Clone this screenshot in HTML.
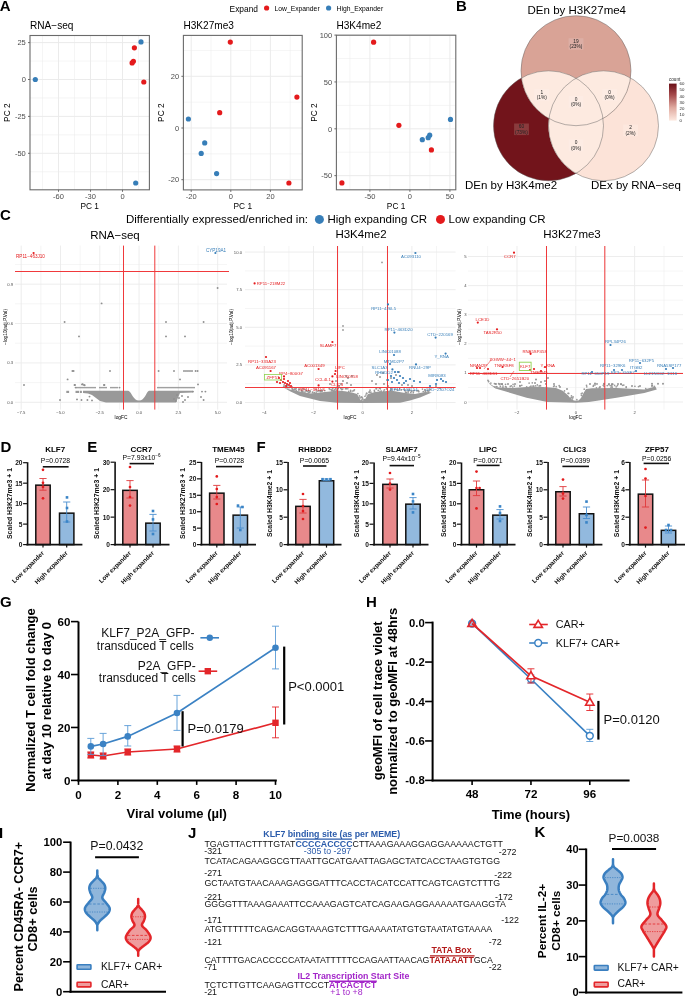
<!DOCTYPE html>
<html><head><meta charset="utf-8"><style>
html,body{margin:0;padding:0;background:#fff;}
svg{display:block;font-family:"Liberation Sans", sans-serif;will-change:transform;}
</style></head><body>
<svg width="685" height="997" viewBox="0 0 685 997">
<rect x="0" y="0" width="685" height="997" fill="#fff"/>
<text x="-0.37" y="10.60" font-size="15" font-weight="bold">A</text>
<text x="229.60" y="12.00" font-size="8.4">Expand</text>
<circle cx="266.60" cy="8.00" r="2.60" fill="#e41a1c"/>
<text x="274.60" y="10.50" font-size="6.75">Low_Expander</text>
<circle cx="328.60" cy="8.00" r="2.60" fill="#377eb8"/>
<text x="336.60" y="10.50" font-size="6.75">High_Expander</text>
<line x1="42.50" y1="35.50" x2="42.50" y2="189.80" stroke="#ebebeb" stroke-width="0.5"/>
<line x1="74.50" y1="35.50" x2="74.50" y2="189.80" stroke="#ebebeb" stroke-width="0.5"/>
<line x1="106.50" y1="35.50" x2="106.50" y2="189.80" stroke="#ebebeb" stroke-width="0.5"/>
<line x1="138.50" y1="35.50" x2="138.50" y2="189.80" stroke="#ebebeb" stroke-width="0.5"/>
<line x1="30.00" y1="61.05" x2="149.40" y2="61.05" stroke="#ebebeb" stroke-width="0.5"/>
<line x1="30.00" y1="97.95" x2="149.40" y2="97.95" stroke="#ebebeb" stroke-width="0.5"/>
<line x1="30.00" y1="134.85" x2="149.40" y2="134.85" stroke="#ebebeb" stroke-width="0.5"/>
<line x1="30.00" y1="171.75" x2="149.40" y2="171.75" stroke="#ebebeb" stroke-width="0.5"/>
<line x1="58.50" y1="35.50" x2="58.50" y2="189.80" stroke="#ebebeb" stroke-width="1"/>
<line x1="90.50" y1="35.50" x2="90.50" y2="189.80" stroke="#ebebeb" stroke-width="1"/>
<line x1="122.50" y1="35.50" x2="122.50" y2="189.80" stroke="#ebebeb" stroke-width="1"/>
<line x1="30.00" y1="42.60" x2="149.40" y2="42.60" stroke="#ebebeb" stroke-width="1"/>
<line x1="30.00" y1="79.50" x2="149.40" y2="79.50" stroke="#ebebeb" stroke-width="1"/>
<line x1="30.00" y1="116.40" x2="149.40" y2="116.40" stroke="#ebebeb" stroke-width="1"/>
<line x1="30.00" y1="153.30" x2="149.40" y2="153.30" stroke="#ebebeb" stroke-width="1"/>
<circle cx="141.00" cy="41.90" r="2.60" fill="#377eb8"/>
<circle cx="134.40" cy="47.80" r="2.60" fill="#e41a1c"/>
<circle cx="133.40" cy="61.30" r="2.60" fill="#e41a1c"/>
<circle cx="132.10" cy="62.90" r="2.60" fill="#e41a1c"/>
<circle cx="143.80" cy="82.00" r="2.60" fill="#e41a1c"/>
<circle cx="35.30" cy="79.50" r="2.60" fill="#377eb8"/>
<circle cx="135.70" cy="183.00" r="2.60" fill="#377eb8"/>
<rect x="30.00" y="35.50" width="119.40" height="154.30" fill="none" stroke="#6a6a6a" stroke-width="1.1"/>
<line x1="58.50" y1="189.80" x2="58.50" y2="191.80" stroke="#6a6a6a" stroke-width="1"/>
<text x="58.50" y="198.70" font-size="7.5" text-anchor="middle" fill="#4d4d4d">-60</text>
<line x1="90.50" y1="189.80" x2="90.50" y2="191.80" stroke="#6a6a6a" stroke-width="1"/>
<text x="90.50" y="198.70" font-size="7.5" text-anchor="middle" fill="#4d4d4d">-30</text>
<line x1="122.50" y1="189.80" x2="122.50" y2="191.80" stroke="#6a6a6a" stroke-width="1"/>
<text x="122.50" y="198.70" font-size="7.5" text-anchor="middle" fill="#4d4d4d">0</text>
<line x1="28.00" y1="42.60" x2="30.00" y2="42.60" stroke="#6a6a6a" stroke-width="1"/>
<text x="25.80" y="45.30" font-size="7.5" text-anchor="end" fill="#4d4d4d">25</text>
<line x1="28.00" y1="79.50" x2="30.00" y2="79.50" stroke="#6a6a6a" stroke-width="1"/>
<text x="25.80" y="82.20" font-size="7.5" text-anchor="end" fill="#4d4d4d">0</text>
<line x1="28.00" y1="116.40" x2="30.00" y2="116.40" stroke="#6a6a6a" stroke-width="1"/>
<text x="25.80" y="119.10" font-size="7.5" text-anchor="end" fill="#4d4d4d">-25</text>
<line x1="28.00" y1="153.30" x2="30.00" y2="153.30" stroke="#6a6a6a" stroke-width="1"/>
<text x="25.80" y="156.00" font-size="7.5" text-anchor="end" fill="#4d4d4d">-50</text>
<text x="30.00" y="29.00" font-size="10.1">RNA−seq</text>
<text x="89.70" y="209.00" font-size="8.3" text-anchor="middle">PC 1</text>
<text x="10.20" y="112.65" font-size="8.3" text-anchor="middle" transform="rotate(-90 10.20 112.65)">PC 2</text>
<line x1="211.00" y1="35.40" x2="211.00" y2="189.90" stroke="#ebebeb" stroke-width="0.5"/>
<line x1="250.60" y1="35.40" x2="250.60" y2="189.90" stroke="#ebebeb" stroke-width="0.5"/>
<line x1="290.20" y1="35.40" x2="290.20" y2="189.90" stroke="#ebebeb" stroke-width="0.5"/>
<line x1="183.40" y1="50.45" x2="302.20" y2="50.45" stroke="#ebebeb" stroke-width="0.5"/>
<line x1="183.40" y1="102.15" x2="302.20" y2="102.15" stroke="#ebebeb" stroke-width="0.5"/>
<line x1="183.40" y1="153.85" x2="302.20" y2="153.85" stroke="#ebebeb" stroke-width="0.5"/>
<line x1="191.20" y1="35.40" x2="191.20" y2="189.90" stroke="#ebebeb" stroke-width="1"/>
<line x1="230.80" y1="35.40" x2="230.80" y2="189.90" stroke="#ebebeb" stroke-width="1"/>
<line x1="270.40" y1="35.40" x2="270.40" y2="189.90" stroke="#ebebeb" stroke-width="1"/>
<line x1="183.40" y1="76.30" x2="302.20" y2="76.30" stroke="#ebebeb" stroke-width="1"/>
<line x1="183.40" y1="128.00" x2="302.20" y2="128.00" stroke="#ebebeb" stroke-width="1"/>
<line x1="183.40" y1="179.70" x2="302.20" y2="179.70" stroke="#ebebeb" stroke-width="1"/>
<circle cx="230.30" cy="42.10" r="2.60" fill="#e41a1c"/>
<circle cx="296.90" cy="97.10" r="2.60" fill="#e41a1c"/>
<circle cx="219.70" cy="112.70" r="2.60" fill="#e41a1c"/>
<circle cx="188.40" cy="119.00" r="2.60" fill="#377eb8"/>
<circle cx="204.70" cy="142.90" r="2.60" fill="#377eb8"/>
<circle cx="201.20" cy="153.40" r="2.60" fill="#377eb8"/>
<circle cx="216.60" cy="173.60" r="2.60" fill="#377eb8"/>
<circle cx="288.90" cy="183.00" r="2.60" fill="#e41a1c"/>
<rect x="183.40" y="35.40" width="118.80" height="154.50" fill="none" stroke="#6a6a6a" stroke-width="1.1"/>
<line x1="191.20" y1="189.90" x2="191.20" y2="191.90" stroke="#6a6a6a" stroke-width="1"/>
<text x="191.20" y="198.80" font-size="7.5" text-anchor="middle" fill="#4d4d4d">-20</text>
<line x1="230.80" y1="189.90" x2="230.80" y2="191.90" stroke="#6a6a6a" stroke-width="1"/>
<text x="230.80" y="198.80" font-size="7.5" text-anchor="middle" fill="#4d4d4d">0</text>
<line x1="270.40" y1="189.90" x2="270.40" y2="191.90" stroke="#6a6a6a" stroke-width="1"/>
<text x="270.40" y="198.80" font-size="7.5" text-anchor="middle" fill="#4d4d4d">20</text>
<line x1="181.40" y1="76.30" x2="183.40" y2="76.30" stroke="#6a6a6a" stroke-width="1"/>
<text x="179.20" y="79.00" font-size="7.5" text-anchor="end" fill="#4d4d4d">20</text>
<line x1="181.40" y1="128.00" x2="183.40" y2="128.00" stroke="#6a6a6a" stroke-width="1"/>
<text x="179.20" y="130.70" font-size="7.5" text-anchor="end" fill="#4d4d4d">0</text>
<line x1="181.40" y1="179.70" x2="183.40" y2="179.70" stroke="#6a6a6a" stroke-width="1"/>
<text x="179.20" y="182.40" font-size="7.5" text-anchor="end" fill="#4d4d4d">-20</text>
<text x="183.40" y="29.00" font-size="10.1">H3K27me3</text>
<text x="242.80" y="209.00" font-size="8.3" text-anchor="middle">PC 1</text>
<text x="164.20" y="112.65" font-size="8.3" text-anchor="middle" transform="rotate(-90 164.20 112.65)">PC 2</text>
<line x1="349.90" y1="35.20" x2="349.90" y2="189.80" stroke="#ebebeb" stroke-width="0.5"/>
<line x1="389.90" y1="35.20" x2="389.90" y2="189.80" stroke="#ebebeb" stroke-width="0.5"/>
<line x1="429.90" y1="35.20" x2="429.90" y2="189.80" stroke="#ebebeb" stroke-width="0.5"/>
<line x1="336.40" y1="58.53" x2="455.80" y2="58.53" stroke="#ebebeb" stroke-width="0.5"/>
<line x1="336.40" y1="105.38" x2="455.80" y2="105.38" stroke="#ebebeb" stroke-width="0.5"/>
<line x1="336.40" y1="152.23" x2="455.80" y2="152.23" stroke="#ebebeb" stroke-width="0.5"/>
<line x1="369.90" y1="35.20" x2="369.90" y2="189.80" stroke="#ebebeb" stroke-width="1"/>
<line x1="409.90" y1="35.20" x2="409.90" y2="189.80" stroke="#ebebeb" stroke-width="1"/>
<line x1="449.90" y1="35.20" x2="449.90" y2="189.80" stroke="#ebebeb" stroke-width="1"/>
<line x1="336.40" y1="35.10" x2="455.80" y2="35.10" stroke="#ebebeb" stroke-width="1"/>
<line x1="336.40" y1="81.95" x2="455.80" y2="81.95" stroke="#ebebeb" stroke-width="1"/>
<line x1="336.40" y1="128.80" x2="455.80" y2="128.80" stroke="#ebebeb" stroke-width="1"/>
<line x1="336.40" y1="175.65" x2="455.80" y2="175.65" stroke="#ebebeb" stroke-width="1"/>
<circle cx="373.60" cy="42.20" r="2.60" fill="#e41a1c"/>
<circle cx="398.90" cy="125.30" r="2.60" fill="#e41a1c"/>
<circle cx="450.50" cy="119.40" r="2.60" fill="#377eb8"/>
<circle cx="429.70" cy="135.20" r="2.60" fill="#377eb8"/>
<circle cx="428.20" cy="137.70" r="2.60" fill="#377eb8"/>
<circle cx="422.30" cy="139.70" r="2.60" fill="#377eb8"/>
<circle cx="431.40" cy="149.90" r="2.60" fill="#e41a1c"/>
<circle cx="341.90" cy="182.90" r="2.60" fill="#e41a1c"/>
<rect x="336.40" y="35.20" width="119.40" height="154.60" fill="none" stroke="#6a6a6a" stroke-width="1.1"/>
<line x1="369.90" y1="189.80" x2="369.90" y2="191.80" stroke="#6a6a6a" stroke-width="1"/>
<text x="369.90" y="198.70" font-size="7.5" text-anchor="middle" fill="#4d4d4d">-50</text>
<line x1="409.90" y1="189.80" x2="409.90" y2="191.80" stroke="#6a6a6a" stroke-width="1"/>
<text x="409.90" y="198.70" font-size="7.5" text-anchor="middle" fill="#4d4d4d">0</text>
<line x1="449.90" y1="189.80" x2="449.90" y2="191.80" stroke="#6a6a6a" stroke-width="1"/>
<text x="449.90" y="198.70" font-size="7.5" text-anchor="middle" fill="#4d4d4d">50</text>
<line x1="334.40" y1="35.10" x2="336.40" y2="35.10" stroke="#6a6a6a" stroke-width="1"/>
<text x="332.20" y="37.80" font-size="7.5" text-anchor="end" fill="#4d4d4d">100</text>
<line x1="334.40" y1="81.95" x2="336.40" y2="81.95" stroke="#6a6a6a" stroke-width="1"/>
<text x="332.20" y="84.65" font-size="7.5" text-anchor="end" fill="#4d4d4d">50</text>
<line x1="334.40" y1="128.80" x2="336.40" y2="128.80" stroke="#6a6a6a" stroke-width="1"/>
<text x="332.20" y="131.50" font-size="7.5" text-anchor="end" fill="#4d4d4d">0</text>
<line x1="334.40" y1="175.65" x2="336.40" y2="175.65" stroke="#6a6a6a" stroke-width="1"/>
<text x="332.20" y="178.35" font-size="7.5" text-anchor="end" fill="#4d4d4d">-50</text>
<text x="336.40" y="29.00" font-size="10.1">H3K4me2</text>
<text x="396.10" y="209.00" font-size="8.3" text-anchor="middle">PC 1</text>
<text x="317.20" y="112.50" font-size="8.3" text-anchor="middle" transform="rotate(-90 317.20 112.50)">PC 2</text>
<text x="455.90" y="10.60" font-size="15" font-weight="bold">B</text>
<defs>
<clipPath id="cpL"><circle cx="548.5" cy="125.8" r="55"/></clipPath>
<clipPath id="cpR"><circle cx="603.5" cy="125.8" r="55"/></clipPath>
<clipPath id="cpT"><circle cx="576" cy="70.7" r="55"/></clipPath>
</defs>
<circle cx="548.50" cy="125.80" r="55.00" fill="#72141b"/>
<circle cx="603.50" cy="125.80" r="55.00" fill="#fce3d8"/>
<circle cx="576.00" cy="70.70" r="55.00" fill="#d9a396"/>
<g clip-path="url(#cpL)"><circle cx="603.5" cy="125.8" r="55" fill="#fdeae0"/><circle cx="576" cy="70.7" r="55" fill="#fdeae0"/></g>
<g clip-path="url(#cpR)"><circle cx="576" cy="70.7" r="55" fill="#fdeae0"/></g>
<circle cx="576.00" cy="70.70" r="55.00" fill="none" stroke="#5a5a5a" stroke-width="0.45"/>
<circle cx="548.50" cy="125.80" r="55.00" fill="none" stroke="#5a5a5a" stroke-width="0.45"/>
<circle cx="603.50" cy="125.80" r="55.00" fill="none" stroke="#5a5a5a" stroke-width="0.45"/>
<rect x="568.60" y="38.20" width="14.80" height="11.60" fill="#dcaea5"/>
<text x="576.00" y="43.00" font-size="4.8" text-anchor="middle" fill="#222">19</text>
<text x="576.00" y="48.20" font-size="4.8" text-anchor="middle" fill="#222">(23%)</text>
<rect x="514.10" y="123.50" width="14.80" height="11.60" fill="#8a3b3d"/>
<text x="521.50" y="128.30" font-size="4.8" text-anchor="middle" fill="#222">60</text>
<text x="521.50" y="133.50" font-size="4.8" text-anchor="middle" fill="#222">(73%)</text>
<rect x="534.40" y="89.00" width="14.80" height="11.60" fill="#fdece4"/>
<text x="541.80" y="93.80" font-size="4.8" text-anchor="middle" fill="#222">1</text>
<text x="541.80" y="99.00" font-size="4.8" text-anchor="middle" fill="#222">(1%)</text>
<rect x="568.60" y="96.00" width="14.80" height="11.60" fill="#fdece4"/>
<text x="576.00" y="100.80" font-size="4.8" text-anchor="middle" fill="#222">0</text>
<text x="576.00" y="106.00" font-size="4.8" text-anchor="middle" fill="#222">(0%)</text>
<rect x="602.20" y="89.00" width="14.80" height="11.60" fill="#fdece4"/>
<text x="609.60" y="93.80" font-size="4.8" text-anchor="middle" fill="#222">0</text>
<text x="609.60" y="99.00" font-size="4.8" text-anchor="middle" fill="#222">(0%)</text>
<rect x="568.60" y="139.50" width="14.80" height="11.60" fill="#fdece4"/>
<text x="576.00" y="144.30" font-size="4.8" text-anchor="middle" fill="#222">0</text>
<text x="576.00" y="149.50" font-size="4.8" text-anchor="middle" fill="#222">(0%)</text>
<rect x="623.20" y="124.50" width="14.80" height="11.60" fill="#fde8de"/>
<text x="630.60" y="129.30" font-size="4.8" text-anchor="middle" fill="#222">2</text>
<text x="630.60" y="134.50" font-size="4.8" text-anchor="middle" fill="#222">(2%)</text>
<text x="576.80" y="14.00" font-size="11.5" text-anchor="middle">DEn by H3K27me4</text>
<text x="465.00" y="189.40" font-size="11.5">DEn by H3K4me2</text>
<text x="635.90" y="189.40" font-size="11.5" text-anchor="middle">DEx by RNA−seq</text>
<defs><linearGradient id="cbar" x1="0" y1="1" x2="0" y2="0"><stop offset="0" stop-color="#fde9e0"/><stop offset="0.35" stop-color="#e0aaa0"/><stop offset="0.7" stop-color="#a4494b"/><stop offset="1" stop-color="#6a0f17"/></linearGradient></defs>
<text x="669.00" y="80.50" font-size="4.6" fill="#222">count</text>
<rect x="669.00" y="83.60" width="7.60" height="37.00" fill="url(#cbar)"/>
<text x="679.50" y="85.20" font-size="4.3" fill="#222">60</text>
<text x="679.50" y="91.37" font-size="4.3" fill="#222">50</text>
<text x="679.50" y="97.53" font-size="4.3" fill="#222">40</text>
<text x="679.50" y="103.70" font-size="4.3" fill="#222">30</text>
<text x="679.50" y="109.87" font-size="4.3" fill="#222">20</text>
<text x="679.50" y="116.03" font-size="4.3" fill="#222">10</text>
<text x="679.50" y="122.20" font-size="4.3" fill="#222">0</text>
<text x="0.00" y="219.60" font-size="15" font-weight="bold">C</text>
<text x="126.00" y="223.40" font-size="11.5">Differentially expressed/enriched in:</text>
<circle cx="319.40" cy="219.40" r="4.50" fill="#377eb8"/>
<text x="327.40" y="223.40" font-size="11.5">High expanding CR</text>
<circle cx="440.50" cy="219.40" r="4.50" fill="#e41a1c"/>
<text x="448.50" y="223.40" font-size="11.5">Low expanding CR</text>
<line x1="40.85" y1="245.60" x2="40.85" y2="409.60" stroke="#ebebeb" stroke-width="0.5"/>
<line x1="80.15" y1="245.60" x2="80.15" y2="409.60" stroke="#ebebeb" stroke-width="0.5"/>
<line x1="119.45" y1="245.60" x2="119.45" y2="409.60" stroke="#ebebeb" stroke-width="0.5"/>
<line x1="158.75" y1="245.60" x2="158.75" y2="409.60" stroke="#ebebeb" stroke-width="0.5"/>
<line x1="198.05" y1="245.60" x2="198.05" y2="409.60" stroke="#ebebeb" stroke-width="0.5"/>
<line x1="15.00" y1="382.61" x2="227.00" y2="382.61" stroke="#ebebeb" stroke-width="0.5"/>
<line x1="15.00" y1="343.22" x2="227.00" y2="343.22" stroke="#ebebeb" stroke-width="0.5"/>
<line x1="15.00" y1="303.82" x2="227.00" y2="303.82" stroke="#ebebeb" stroke-width="0.5"/>
<line x1="15.00" y1="264.44" x2="227.00" y2="264.44" stroke="#ebebeb" stroke-width="0.5"/>
<line x1="21.20" y1="245.60" x2="21.20" y2="409.60" stroke="#ebebeb" stroke-width="0.9"/>
<line x1="60.50" y1="245.60" x2="60.50" y2="409.60" stroke="#ebebeb" stroke-width="0.9"/>
<line x1="99.80" y1="245.60" x2="99.80" y2="409.60" stroke="#ebebeb" stroke-width="0.9"/>
<line x1="139.10" y1="245.60" x2="139.10" y2="409.60" stroke="#ebebeb" stroke-width="0.9"/>
<line x1="178.40" y1="245.60" x2="178.40" y2="409.60" stroke="#ebebeb" stroke-width="0.9"/>
<line x1="217.70" y1="245.60" x2="217.70" y2="409.60" stroke="#ebebeb" stroke-width="0.9"/>
<line x1="15.00" y1="402.30" x2="227.00" y2="402.30" stroke="#ebebeb" stroke-width="0.9"/>
<line x1="15.00" y1="362.91" x2="227.00" y2="362.91" stroke="#ebebeb" stroke-width="0.9"/>
<line x1="15.00" y1="323.52" x2="227.00" y2="323.52" stroke="#ebebeb" stroke-width="0.9"/>
<line x1="15.00" y1="284.13" x2="227.00" y2="284.13" stroke="#ebebeb" stroke-width="0.9"/>
<text x="115.00" y="239.40" font-size="11.5" text-anchor="middle">RNA−seq</text>
<text x="21.20" y="413.50" font-size="4.2" text-anchor="middle" fill="#4d4d4d">−7.5</text>
<text x="60.50" y="413.50" font-size="4.2" text-anchor="middle" fill="#4d4d4d">−5.0</text>
<text x="99.80" y="413.50" font-size="4.2" text-anchor="middle" fill="#4d4d4d">−2.5</text>
<text x="139.10" y="413.50" font-size="4.2" text-anchor="middle" fill="#4d4d4d">0.0</text>
<text x="178.40" y="413.50" font-size="4.2" text-anchor="middle" fill="#4d4d4d">2.5</text>
<text x="217.70" y="413.50" font-size="4.2" text-anchor="middle" fill="#4d4d4d">5.0</text>
<text x="13.00" y="403.80" font-size="4.2" text-anchor="end" fill="#4d4d4d">0.0</text>
<text x="13.00" y="364.41" font-size="4.2" text-anchor="end" fill="#4d4d4d">0.3</text>
<text x="13.00" y="325.02" font-size="4.2" text-anchor="end" fill="#4d4d4d">0.6</text>
<text x="13.00" y="285.63" font-size="4.2" text-anchor="end" fill="#4d4d4d">0.9</text>
<text x="121.00" y="419.00" font-size="4.8" text-anchor="middle">logFC</text>
<text x="6.50" y="327.00" font-size="4.8" text-anchor="middle" transform="rotate(-90 6.50 327.00)">−log10(adj.P.Val)</text>
<path d="M83,390.7 L128.2,390.7 C132,392 133,400.5 139,400.6 C145,400.5 146,392 149,390.7 L193,390.7 L193,392.6 L180,393 L176,402.6 L106,402.6 L100,401 L96,398 L92,395 L88,393.5 L83,393 Z" fill="#999999"/>
<rect x="75.50" y="390.80" width="3.50" height="2.20" fill="#999999"/>
<rect x="79.80" y="390.80" width="2.10" height="2.20" fill="#999999"/>
<rect x="66.30" y="390.80" width="2.80" height="2.20" fill="#999999"/>
<circle cx="101.60" cy="303.40" r="0.95" fill="#8f8f8f"/>
<circle cx="64.60" cy="322.00" r="0.95" fill="#8f8f8f"/>
<circle cx="79.00" cy="336.40" r="0.95" fill="#8f8f8f"/>
<circle cx="72.40" cy="371.00" r="0.95" fill="#8f8f8f"/>
<circle cx="73.60" cy="371.00" r="0.95" fill="#8f8f8f"/>
<circle cx="110.00" cy="371.00" r="0.95" fill="#8f8f8f"/>
<circle cx="67.60" cy="379.40" r="0.95" fill="#8f8f8f"/>
<circle cx="24.00" cy="385.00" r="0.95" fill="#8f8f8f"/>
<circle cx="75.00" cy="385.00" r="0.95" fill="#8f8f8f"/>
<circle cx="82.00" cy="384.40" r="0.95" fill="#8f8f8f"/>
<circle cx="84.00" cy="385.00" r="0.95" fill="#8f8f8f"/>
<circle cx="104.40" cy="385.00" r="0.95" fill="#8f8f8f"/>
<circle cx="60.00" cy="400.00" r="0.95" fill="#8f8f8f"/>
<circle cx="77.00" cy="399.40" r="0.95" fill="#8f8f8f"/>
<circle cx="81.50" cy="400.00" r="0.95" fill="#8f8f8f"/>
<circle cx="87.40" cy="400.00" r="0.95" fill="#8f8f8f"/>
<circle cx="92.00" cy="400.40" r="0.95" fill="#8f8f8f"/>
<circle cx="89.50" cy="396.60" r="0.95" fill="#8f8f8f"/>
<circle cx="74.50" cy="385.00" r="0.95" fill="#8f8f8f"/>
<circle cx="82.70" cy="384.30" r="0.95" fill="#8f8f8f"/>
<circle cx="84.70" cy="385.20" r="0.95" fill="#8f8f8f"/>
<circle cx="166.00" cy="322.00" r="0.95" fill="#8f8f8f"/>
<circle cx="203.60" cy="322.00" r="0.95" fill="#8f8f8f"/>
<circle cx="166.00" cy="336.40" r="0.95" fill="#8f8f8f"/>
<circle cx="185.00" cy="336.40" r="0.95" fill="#8f8f8f"/>
<circle cx="158.60" cy="371.00" r="0.95" fill="#8f8f8f"/>
<circle cx="174.00" cy="371.00" r="0.95" fill="#8f8f8f"/>
<circle cx="184.00" cy="371.00" r="0.95" fill="#8f8f8f"/>
<circle cx="186.00" cy="371.00" r="0.95" fill="#8f8f8f"/>
<circle cx="188.00" cy="371.00" r="0.95" fill="#8f8f8f"/>
<circle cx="190.00" cy="371.00" r="0.95" fill="#8f8f8f"/>
<circle cx="192.00" cy="371.00" r="0.95" fill="#8f8f8f"/>
<circle cx="195.60" cy="371.00" r="0.95" fill="#8f8f8f"/>
<circle cx="197.60" cy="371.00" r="0.95" fill="#8f8f8f"/>
<circle cx="180.00" cy="379.40" r="0.95" fill="#8f8f8f"/>
<circle cx="198.00" cy="384.40" r="0.95" fill="#8f8f8f"/>
<circle cx="104.00" cy="385.00" r="0.95" fill="#8f8f8f"/>
<circle cx="193.00" cy="391.60" r="0.95" fill="#8f8f8f"/>
<circle cx="202.00" cy="391.60" r="0.95" fill="#8f8f8f"/>
<circle cx="205.40" cy="391.60" r="0.95" fill="#8f8f8f"/>
<circle cx="201.00" cy="397.00" r="0.95" fill="#8f8f8f"/>
<circle cx="203.60" cy="400.00" r="0.95" fill="#8f8f8f"/>
<circle cx="177.00" cy="395.00" r="0.95" fill="#8f8f8f"/>
<circle cx="179.00" cy="398.00" r="0.95" fill="#8f8f8f"/>
<circle cx="182.00" cy="396.00" r="0.95" fill="#8f8f8f"/>
<circle cx="185.00" cy="400.00" r="0.95" fill="#8f8f8f"/>
<circle cx="188.00" cy="397.00" r="0.95" fill="#8f8f8f"/>
<circle cx="176.00" cy="401.00" r="0.95" fill="#8f8f8f"/>
<circle cx="183.00" cy="402.00" r="0.95" fill="#8f8f8f"/>
<circle cx="174.00" cy="399.00" r="0.95" fill="#8f8f8f"/>
<circle cx="75.60" cy="387.60" r="0.95" fill="#8f8f8f"/>
<circle cx="77.00" cy="387.60" r="0.95" fill="#8f8f8f"/>
<circle cx="79.00" cy="387.60" r="0.95" fill="#8f8f8f"/>
<circle cx="81.00" cy="387.60" r="0.95" fill="#8f8f8f"/>
<circle cx="83.00" cy="387.60" r="0.95" fill="#8f8f8f"/>
<circle cx="85.00" cy="387.60" r="0.95" fill="#8f8f8f"/>
<circle cx="87.00" cy="387.60" r="0.95" fill="#8f8f8f"/>
<circle cx="89.00" cy="387.60" r="0.95" fill="#8f8f8f"/>
<circle cx="91.00" cy="387.60" r="0.95" fill="#8f8f8f"/>
<circle cx="93.00" cy="387.60" r="0.95" fill="#8f8f8f"/>
<circle cx="95.00" cy="387.60" r="0.95" fill="#8f8f8f"/>
<circle cx="100.00" cy="387.60" r="0.95" fill="#8f8f8f"/>
<circle cx="102.00" cy="387.60" r="0.95" fill="#8f8f8f"/>
<circle cx="104.00" cy="387.60" r="0.95" fill="#8f8f8f"/>
<circle cx="106.00" cy="387.60" r="0.95" fill="#8f8f8f"/>
<circle cx="111.00" cy="387.60" r="0.95" fill="#8f8f8f"/>
<circle cx="113.00" cy="387.60" r="0.95" fill="#8f8f8f"/>
<circle cx="115.00" cy="387.60" r="0.95" fill="#8f8f8f"/>
<circle cx="117.00" cy="387.60" r="0.95" fill="#8f8f8f"/>
<circle cx="119.50" cy="387.60" r="0.95" fill="#8f8f8f"/>
<circle cx="158.00" cy="387.60" r="0.95" fill="#8f8f8f"/>
<circle cx="160.00" cy="387.60" r="0.95" fill="#8f8f8f"/>
<circle cx="162.00" cy="387.60" r="0.95" fill="#8f8f8f"/>
<circle cx="164.00" cy="387.60" r="0.95" fill="#8f8f8f"/>
<circle cx="166.00" cy="387.60" r="0.95" fill="#8f8f8f"/>
<circle cx="168.00" cy="387.60" r="0.95" fill="#8f8f8f"/>
<circle cx="170.00" cy="387.60" r="0.95" fill="#8f8f8f"/>
<circle cx="172.00" cy="387.60" r="0.95" fill="#8f8f8f"/>
<circle cx="174.00" cy="387.60" r="0.95" fill="#8f8f8f"/>
<circle cx="176.00" cy="387.60" r="0.95" fill="#8f8f8f"/>
<circle cx="178.00" cy="387.60" r="0.95" fill="#8f8f8f"/>
<circle cx="180.00" cy="387.60" r="0.95" fill="#8f8f8f"/>
<circle cx="182.00" cy="387.60" r="0.95" fill="#8f8f8f"/>
<circle cx="184.00" cy="387.60" r="0.95" fill="#8f8f8f"/>
<circle cx="186.00" cy="387.60" r="0.95" fill="#8f8f8f"/>
<circle cx="188.00" cy="387.60" r="0.95" fill="#8f8f8f"/>
<circle cx="190.00" cy="387.60" r="0.95" fill="#8f8f8f"/>
<circle cx="192.00" cy="387.60" r="0.95" fill="#8f8f8f"/>
<circle cx="194.00" cy="387.60" r="0.95" fill="#8f8f8f"/>
<line x1="15.00" y1="271.50" x2="229.00" y2="271.50" stroke="#f0393b" stroke-width="1"/>
<line x1="123.50" y1="245.60" x2="123.50" y2="409.60" stroke="#f0393b" stroke-width="1"/>
<line x1="154.80" y1="245.60" x2="154.80" y2="409.60" stroke="#f0393b" stroke-width="1"/>
<circle cx="33.60" cy="253.00" r="1.10" fill="#e41a1c"/>
<text x="16.00" y="258.20" font-size="4.6" fill="#e41a1c">RP11−463J10</text>
<circle cx="215.40" cy="253.00" r="1.10" fill="#377eb8"/>
<text x="216.00" y="251.60" font-size="4.6" text-anchor="middle" fill="#377eb8">CYP19A1</text>
<circle cx="217.60" cy="288.00" r="0.95" fill="#8f8f8f"/>
<line x1="288.90" y1="246.00" x2="288.90" y2="409.60" stroke="#ebebeb" stroke-width="0.5"/>
<line x1="338.10" y1="246.00" x2="338.10" y2="409.60" stroke="#ebebeb" stroke-width="0.5"/>
<line x1="387.30" y1="246.00" x2="387.30" y2="409.60" stroke="#ebebeb" stroke-width="0.5"/>
<line x1="436.50" y1="246.00" x2="436.50" y2="409.60" stroke="#ebebeb" stroke-width="0.5"/>
<line x1="245.00" y1="383.70" x2="455.60" y2="383.70" stroke="#ebebeb" stroke-width="0.5"/>
<line x1="245.00" y1="346.10" x2="455.60" y2="346.10" stroke="#ebebeb" stroke-width="0.5"/>
<line x1="245.00" y1="308.50" x2="455.60" y2="308.50" stroke="#ebebeb" stroke-width="0.5"/>
<line x1="245.00" y1="270.90" x2="455.60" y2="270.90" stroke="#ebebeb" stroke-width="0.5"/>
<line x1="264.30" y1="246.00" x2="264.30" y2="409.60" stroke="#ebebeb" stroke-width="0.9"/>
<line x1="313.50" y1="246.00" x2="313.50" y2="409.60" stroke="#ebebeb" stroke-width="0.9"/>
<line x1="362.70" y1="246.00" x2="362.70" y2="409.60" stroke="#ebebeb" stroke-width="0.9"/>
<line x1="411.90" y1="246.00" x2="411.90" y2="409.60" stroke="#ebebeb" stroke-width="0.9"/>
<line x1="245.00" y1="402.50" x2="455.60" y2="402.50" stroke="#ebebeb" stroke-width="0.9"/>
<line x1="245.00" y1="364.90" x2="455.60" y2="364.90" stroke="#ebebeb" stroke-width="0.9"/>
<line x1="245.00" y1="327.30" x2="455.60" y2="327.30" stroke="#ebebeb" stroke-width="0.9"/>
<line x1="245.00" y1="289.70" x2="455.60" y2="289.70" stroke="#ebebeb" stroke-width="0.9"/>
<line x1="245.00" y1="252.10" x2="455.60" y2="252.10" stroke="#ebebeb" stroke-width="0.9"/>
<text x="361.00" y="238.40" font-size="11.5" text-anchor="middle">H3K4me2</text>
<text x="264.30" y="413.50" font-size="4.2" text-anchor="middle" fill="#4d4d4d">−4</text>
<text x="313.50" y="413.50" font-size="4.2" text-anchor="middle" fill="#4d4d4d">−2</text>
<text x="362.70" y="413.50" font-size="4.2" text-anchor="middle" fill="#4d4d4d">0</text>
<text x="411.90" y="413.50" font-size="4.2" text-anchor="middle" fill="#4d4d4d">2</text>
<text x="242.00" y="404.00" font-size="4.2" text-anchor="end" fill="#4d4d4d">0.0</text>
<text x="242.00" y="366.40" font-size="4.2" text-anchor="end" fill="#4d4d4d">2.5</text>
<text x="242.00" y="328.80" font-size="4.2" text-anchor="end" fill="#4d4d4d">5.0</text>
<text x="242.00" y="291.20" font-size="4.2" text-anchor="end" fill="#4d4d4d">7.5</text>
<text x="242.00" y="253.60" font-size="4.2" text-anchor="end" fill="#4d4d4d">10.0</text>
<text x="350.00" y="419.00" font-size="4.8" text-anchor="middle">logFC</text>
<text x="233.00" y="327.00" font-size="4.8" text-anchor="middle" transform="rotate(-90 233.00 327.00)">−log10(adj.P.Val)</text>
<path d="M283.50,387.50 L290.00,389.40 L300.00,391.60 L310.00,393.50 L320.00,392.50 L330.00,391.50 L337.00,390.40 L345.00,391.30 L352.00,392.50 L357.00,393.90 L358.80,397.00 L360.50,400.20 L362.50,400.80 L364.50,400.20 L366.30,397.00 L368.00,393.90 L375.00,392.00 L385.00,391.30 L390.00,390.50 L395.00,391.30 L405.00,393.00 L415.00,393.90 L425.00,392.10 L431.80,392.60 L420.00,397.40 L410.00,400.50 L400.00,402.80 L362.50,403.00 L337.00,402.80 L320.00,401.00 L300.00,396.00 L290.00,391.20 Z" fill="#999999"/>
<circle cx="331.52" cy="390.73" r="0.85" fill="#999999"/>
<circle cx="380.03" cy="391.39" r="0.85" fill="#999999"/>
<circle cx="362.97" cy="399.38" r="0.85" fill="#999999"/>
<circle cx="292.10" cy="388.09" r="0.85" fill="#999999"/>
<circle cx="289.06" cy="387.61" r="0.85" fill="#999999"/>
<circle cx="293.86" cy="389.93" r="0.85" fill="#999999"/>
<circle cx="346.46" cy="388.66" r="0.85" fill="#999999"/>
<circle cx="301.86" cy="391.17" r="0.85" fill="#999999"/>
<circle cx="376.55" cy="388.57" r="0.85" fill="#999999"/>
<circle cx="369.08" cy="392.22" r="0.85" fill="#999999"/>
<circle cx="428.28" cy="392.18" r="0.85" fill="#999999"/>
<circle cx="410.81" cy="392.51" r="0.85" fill="#999999"/>
<circle cx="304.89" cy="392.12" r="0.85" fill="#999999"/>
<circle cx="329.25" cy="388.72" r="0.85" fill="#999999"/>
<circle cx="310.30" cy="391.43" r="0.85" fill="#999999"/>
<circle cx="378.25" cy="390.47" r="0.85" fill="#999999"/>
<circle cx="364.73" cy="399.57" r="0.85" fill="#999999"/>
<circle cx="292.34" cy="389.19" r="0.85" fill="#999999"/>
<circle cx="384.40" cy="389.85" r="0.85" fill="#999999"/>
<circle cx="330.09" cy="389.44" r="0.85" fill="#999999"/>
<circle cx="350.71" cy="391.23" r="0.85" fill="#999999"/>
<circle cx="401.31" cy="389.93" r="0.85" fill="#999999"/>
<circle cx="319.70" cy="390.52" r="0.85" fill="#999999"/>
<circle cx="361.39" cy="397.40" r="0.85" fill="#999999"/>
<circle cx="391.68" cy="389.76" r="0.85" fill="#999999"/>
<circle cx="428.86" cy="391.97" r="0.85" fill="#999999"/>
<circle cx="345.51" cy="388.74" r="0.85" fill="#999999"/>
<circle cx="306.04" cy="391.04" r="0.85" fill="#999999"/>
<circle cx="289.31" cy="386.86" r="0.85" fill="#999999"/>
<circle cx="396.89" cy="389.62" r="0.85" fill="#999999"/>
<circle cx="413.33" cy="392.65" r="0.85" fill="#999999"/>
<circle cx="386.61" cy="388.96" r="0.85" fill="#999999"/>
<circle cx="369.50" cy="391.90" r="0.85" fill="#999999"/>
<circle cx="408.07" cy="389.97" r="0.85" fill="#999999"/>
<circle cx="353.81" cy="390.68" r="0.85" fill="#999999"/>
<circle cx="292.50" cy="387.49" r="0.85" fill="#999999"/>
<circle cx="379.47" cy="388.21" r="0.85" fill="#999999"/>
<circle cx="405.39" cy="392.04" r="0.85" fill="#999999"/>
<circle cx="340.71" cy="388.48" r="0.85" fill="#999999"/>
<circle cx="286.85" cy="386.86" r="0.85" fill="#999999"/>
<circle cx="308.42" cy="392.79" r="0.85" fill="#999999"/>
<circle cx="292.24" cy="387.20" r="0.85" fill="#999999"/>
<circle cx="302.68" cy="391.24" r="0.85" fill="#999999"/>
<circle cx="341.48" cy="387.85" r="0.85" fill="#999999"/>
<circle cx="295.45" cy="389.03" r="0.85" fill="#999999"/>
<circle cx="364.98" cy="396.25" r="0.85" fill="#999999"/>
<circle cx="405.00" cy="389.98" r="0.85" fill="#999999"/>
<circle cx="324.79" cy="390.57" r="0.85" fill="#999999"/>
<circle cx="336.71" cy="387.35" r="0.85" fill="#999999"/>
<circle cx="425.53" cy="391.61" r="0.85" fill="#999999"/>
<circle cx="309.63" cy="392.62" r="0.85" fill="#999999"/>
<circle cx="318.10" cy="390.99" r="0.85" fill="#999999"/>
<circle cx="370.87" cy="392.20" r="0.85" fill="#999999"/>
<circle cx="284.11" cy="386.21" r="0.85" fill="#999999"/>
<circle cx="338.26" cy="388.56" r="0.85" fill="#999999"/>
<circle cx="424.84" cy="389.71" r="0.85" fill="#999999"/>
<circle cx="359.95" cy="397.00" r="0.85" fill="#999999"/>
<circle cx="383.78" cy="391.20" r="0.85" fill="#999999"/>
<circle cx="416.90" cy="390.83" r="0.85" fill="#999999"/>
<circle cx="413.19" cy="390.94" r="0.85" fill="#999999"/>
<circle cx="341.69" cy="389.53" r="0.85" fill="#999999"/>
<circle cx="298.85" cy="389.13" r="0.85" fill="#999999"/>
<circle cx="292.73" cy="389.77" r="0.85" fill="#999999"/>
<circle cx="314.46" cy="392.49" r="0.85" fill="#999999"/>
<circle cx="333.93" cy="390.70" r="0.85" fill="#999999"/>
<circle cx="283.53" cy="386.98" r="0.85" fill="#999999"/>
<circle cx="298.55" cy="390.01" r="0.85" fill="#999999"/>
<circle cx="287.28" cy="385.55" r="0.85" fill="#999999"/>
<circle cx="374.57" cy="391.60" r="0.85" fill="#999999"/>
<circle cx="320.91" cy="391.19" r="0.85" fill="#999999"/>
<circle cx="337.51" cy="390.03" r="0.85" fill="#999999"/>
<circle cx="409.40" cy="389.92" r="0.85" fill="#999999"/>
<circle cx="352.61" cy="390.98" r="0.85" fill="#999999"/>
<circle cx="296.24" cy="390.41" r="0.85" fill="#999999"/>
<circle cx="334.31" cy="389.90" r="0.85" fill="#999999"/>
<circle cx="406.42" cy="392.56" r="0.85" fill="#999999"/>
<circle cx="286.93" cy="385.17" r="0.85" fill="#999999"/>
<circle cx="361.84" cy="400.09" r="0.85" fill="#999999"/>
<circle cx="364.05" cy="400.24" r="0.85" fill="#999999"/>
<circle cx="361.82" cy="397.17" r="0.85" fill="#999999"/>
<circle cx="411.53" cy="391.15" r="0.85" fill="#999999"/>
<circle cx="322.22" cy="390.99" r="0.85" fill="#999999"/>
<circle cx="308.27" cy="390.47" r="0.85" fill="#999999"/>
<circle cx="362.48" cy="398.07" r="0.85" fill="#999999"/>
<circle cx="332.39" cy="390.34" r="0.85" fill="#999999"/>
<circle cx="403.85" cy="389.36" r="0.85" fill="#999999"/>
<circle cx="409.94" cy="390.62" r="0.85" fill="#999999"/>
<circle cx="404.86" cy="390.39" r="0.85" fill="#999999"/>
<circle cx="317.13" cy="390.98" r="0.85" fill="#999999"/>
<circle cx="336.23" cy="390.42" r="0.85" fill="#999999"/>
<circle cx="287.64" cy="387.73" r="0.85" fill="#999999"/>
<circle cx="321.94" cy="389.88" r="0.85" fill="#999999"/>
<circle cx="425.35" cy="390.56" r="0.85" fill="#999999"/>
<circle cx="422.46" cy="389.10" r="0.85" fill="#999999"/>
<circle cx="425.13" cy="390.83" r="0.85" fill="#999999"/>
<circle cx="316.19" cy="392.09" r="0.85" fill="#999999"/>
<circle cx="312.67" cy="392.52" r="0.85" fill="#999999"/>
<circle cx="376.05" cy="388.78" r="0.85" fill="#999999"/>
<circle cx="408.14" cy="391.60" r="0.85" fill="#999999"/>
<circle cx="380.34" cy="388.83" r="0.85" fill="#999999"/>
<circle cx="296.07" cy="388.42" r="0.85" fill="#999999"/>
<circle cx="418.42" cy="390.55" r="0.85" fill="#999999"/>
<circle cx="394.75" cy="389.59" r="0.85" fill="#999999"/>
<circle cx="309.97" cy="390.73" r="0.85" fill="#999999"/>
<circle cx="332.81" cy="388.26" r="0.85" fill="#999999"/>
<circle cx="427.60" cy="390.91" r="0.85" fill="#999999"/>
<circle cx="343.03" cy="387.76" r="0.85" fill="#999999"/>
<circle cx="390.99" cy="390.06" r="0.85" fill="#999999"/>
<circle cx="302.34" cy="391.52" r="0.85" fill="#999999"/>
<circle cx="417.69" cy="390.59" r="0.85" fill="#999999"/>
<circle cx="305.18" cy="389.69" r="0.85" fill="#999999"/>
<circle cx="428.88" cy="390.08" r="0.85" fill="#999999"/>
<circle cx="335.47" cy="388.72" r="0.85" fill="#999999"/>
<circle cx="302.92" cy="392.11" r="0.85" fill="#999999"/>
<circle cx="427.48" cy="390.01" r="0.85" fill="#999999"/>
<circle cx="361.59" cy="397.26" r="0.85" fill="#999999"/>
<circle cx="347.83" cy="388.73" r="0.85" fill="#999999"/>
<circle cx="406.02" cy="392.35" r="0.85" fill="#999999"/>
<circle cx="320.85" cy="391.39" r="0.85" fill="#999999"/>
<circle cx="319.17" cy="390.53" r="0.85" fill="#999999"/>
<circle cx="321.96" cy="390.84" r="0.85" fill="#999999"/>
<circle cx="302.94" cy="388.97" r="0.85" fill="#999999"/>
<circle cx="335.97" cy="388.96" r="0.85" fill="#999999"/>
<circle cx="370.01" cy="390.19" r="0.85" fill="#999999"/>
<circle cx="345.88" cy="388.24" r="0.85" fill="#999999"/>
<circle cx="357.89" cy="393.58" r="0.85" fill="#999999"/>
<circle cx="361.14" cy="400.33" r="0.85" fill="#999999"/>
<circle cx="348.77" cy="391.31" r="0.85" fill="#999999"/>
<circle cx="284.08" cy="384.87" r="0.85" fill="#999999"/>
<circle cx="309.06" cy="391.66" r="0.85" fill="#999999"/>
<circle cx="391.05" cy="388.72" r="0.85" fill="#999999"/>
<circle cx="331.84" cy="389.40" r="0.85" fill="#999999"/>
<circle cx="365.87" cy="395.02" r="0.85" fill="#999999"/>
<circle cx="299.24" cy="389.47" r="0.85" fill="#999999"/>
<circle cx="320.35" cy="391.50" r="0.85" fill="#999999"/>
<circle cx="398.03" cy="390.04" r="0.85" fill="#999999"/>
<circle cx="366.80" cy="393.42" r="0.85" fill="#999999"/>
<circle cx="418.82" cy="391.66" r="0.85" fill="#999999"/>
<circle cx="374.34" cy="390.41" r="0.85" fill="#999999"/>
<circle cx="359.45" cy="395.81" r="0.85" fill="#999999"/>
<circle cx="350.58" cy="390.39" r="0.85" fill="#999999"/>
<circle cx="354.39" cy="389.87" r="0.85" fill="#999999"/>
<circle cx="387.19" cy="387.88" r="0.85" fill="#999999"/>
<circle cx="423.23" cy="391.51" r="0.85" fill="#999999"/>
<circle cx="366.48" cy="393.38" r="0.85" fill="#999999"/>
<circle cx="408.07" cy="392.80" r="0.85" fill="#999999"/>
<circle cx="301.54" cy="390.34" r="0.85" fill="#999999"/>
<circle cx="294.26" cy="389.49" r="0.85" fill="#999999"/>
<circle cx="294.34" cy="388.01" r="0.85" fill="#999999"/>
<circle cx="399.76" cy="388.97" r="0.85" fill="#999999"/>
<circle cx="306.40" cy="390.31" r="0.85" fill="#999999"/>
<circle cx="381.42" cy="391.05" r="0.85" fill="#999999"/>
<circle cx="414.42" cy="390.46" r="0.85" fill="#999999"/>
<circle cx="316.06" cy="389.56" r="0.85" fill="#999999"/>
<circle cx="342.56" cy="389.32" r="0.85" fill="#999999"/>
<circle cx="430.30" cy="389.58" r="0.85" fill="#999999"/>
<circle cx="307.45" cy="391.50" r="0.85" fill="#999999"/>
<circle cx="359.96" cy="398.00" r="0.85" fill="#999999"/>
<circle cx="312.53" cy="392.13" r="0.85" fill="#999999"/>
<circle cx="390.59" cy="390.53" r="0.85" fill="#999999"/>
<circle cx="330.00" cy="384.00" r="0.95" fill="#8f8f8f"/>
<circle cx="336.00" cy="381.00" r="0.95" fill="#8f8f8f"/>
<circle cx="341.00" cy="384.00" r="0.95" fill="#8f8f8f"/>
<circle cx="343.00" cy="381.00" r="0.95" fill="#8f8f8f"/>
<circle cx="347.00" cy="383.00" r="0.95" fill="#8f8f8f"/>
<circle cx="351.00" cy="385.00" r="0.95" fill="#8f8f8f"/>
<circle cx="339.00" cy="386.00" r="0.95" fill="#8f8f8f"/>
<circle cx="346.00" cy="376.00" r="0.95" fill="#8f8f8f"/>
<circle cx="348.00" cy="378.00" r="0.95" fill="#8f8f8f"/>
<circle cx="352.00" cy="376.00" r="0.95" fill="#8f8f8f"/>
<circle cx="372.00" cy="381.00" r="0.95" fill="#8f8f8f"/>
<circle cx="377.00" cy="375.00" r="0.95" fill="#8f8f8f"/>
<circle cx="380.00" cy="377.00" r="0.95" fill="#8f8f8f"/>
<circle cx="383.00" cy="373.00" r="0.95" fill="#8f8f8f"/>
<circle cx="387.00" cy="380.00" r="0.95" fill="#8f8f8f"/>
<circle cx="391.00" cy="378.00" r="0.95" fill="#8f8f8f"/>
<circle cx="376.00" cy="384.00" r="0.95" fill="#8f8f8f"/>
<circle cx="384.00" cy="384.00" r="0.95" fill="#8f8f8f"/>
<circle cx="388.00" cy="386.00" r="0.95" fill="#8f8f8f"/>
<circle cx="396.00" cy="375.00" r="0.95" fill="#8f8f8f"/>
<circle cx="399.00" cy="372.00" r="0.95" fill="#8f8f8f"/>
<circle cx="402.00" cy="385.00" r="0.95" fill="#8f8f8f"/>
<circle cx="408.00" cy="385.00" r="0.95" fill="#8f8f8f"/>
<circle cx="412.00" cy="386.00" r="0.95" fill="#8f8f8f"/>
<circle cx="436.00" cy="386.00" r="0.95" fill="#8f8f8f"/>
<circle cx="440.00" cy="388.00" r="0.95" fill="#8f8f8f"/>
<line x1="245.00" y1="387.50" x2="455.60" y2="387.50" stroke="#f0393b" stroke-width="1"/>
<line x1="337.50" y1="246.00" x2="337.50" y2="409.60" stroke="#f0393b" stroke-width="1"/>
<line x1="387.50" y1="246.00" x2="387.50" y2="409.60" stroke="#f0393b" stroke-width="1"/>
<circle cx="254.60" cy="283.40" r="1.10" fill="#e41a1c"/>
<circle cx="266.00" cy="357.00" r="1.10" fill="#e41a1c"/>
<circle cx="270.60" cy="371.00" r="1.10" fill="#e41a1c"/>
<circle cx="284.00" cy="376.40" r="1.10" fill="#e41a1c"/>
<circle cx="318.60" cy="369.00" r="1.10" fill="#e41a1c"/>
<circle cx="335.60" cy="371.00" r="1.10" fill="#e41a1c"/>
<circle cx="335.00" cy="374.00" r="1.10" fill="#e41a1c"/>
<circle cx="332.40" cy="376.40" r="1.10" fill="#e41a1c"/>
<circle cx="332.40" cy="381.60" r="1.10" fill="#e41a1c"/>
<circle cx="318.60" cy="385.40" r="1.10" fill="#e41a1c"/>
<circle cx="332.40" cy="342.00" r="1.10" fill="#e41a1c"/>
<circle cx="279.00" cy="378.00" r="1.10" fill="#e41a1c"/>
<circle cx="281.00" cy="380.00" r="1.10" fill="#e41a1c"/>
<circle cx="283.00" cy="382.00" r="1.10" fill="#e41a1c"/>
<circle cx="285.00" cy="383.00" r="1.10" fill="#e41a1c"/>
<circle cx="287.00" cy="384.00" r="1.10" fill="#e41a1c"/>
<circle cx="289.00" cy="385.00" r="1.10" fill="#e41a1c"/>
<circle cx="291.00" cy="386.00" r="1.10" fill="#e41a1c"/>
<circle cx="280.00" cy="383.00" r="1.10" fill="#e41a1c"/>
<circle cx="284.00" cy="379.00" r="1.10" fill="#e41a1c"/>
<circle cx="288.00" cy="381.00" r="1.10" fill="#e41a1c"/>
<circle cx="277.00" cy="382.00" r="1.10" fill="#e41a1c"/>
<circle cx="290.00" cy="383.00" r="1.10" fill="#e41a1c"/>
<circle cx="286.00" cy="386.00" r="1.10" fill="#e41a1c"/>
<text x="271.00" y="285.10" font-size="4.3" text-anchor="middle" fill="#e41a1c">RP11−218M22</text>
<text x="328.00" y="346.70" font-size="4.3" text-anchor="middle" fill="#e41a1c">SLAMF7</text>
<text x="262.00" y="362.70" font-size="4.3" text-anchor="middle" fill="#e41a1c">RP11−333A23</text>
<text x="266.00" y="369.10" font-size="4.3" text-anchor="middle" fill="#e41a1c">AC091167</text>
<text x="291.00" y="374.70" font-size="4.3" text-anchor="middle" fill="#e41a1c">RP4−800G7</text>
<text x="314.40" y="367.30" font-size="4.3" text-anchor="middle" fill="#e41a1c">AC001349</text>
<text x="340.00" y="368.70" font-size="4.3" text-anchor="middle" fill="#e41a1c">LIPC</text>
<text x="323.00" y="380.70" font-size="4.3" text-anchor="middle" fill="#e41a1c">CCL4L1</text>
<text x="347.00" y="377.70" font-size="4.3" text-anchor="middle" fill="#e41a1c">LINC00158</text>
<text x="337.00" y="386.10" font-size="4.3" text-anchor="middle" fill="#e41a1c">CLIC3</text>
<text x="312.00" y="391.30" font-size="4.3" text-anchor="middle" fill="#e41a1c">RP1L−391L3</text>
<rect x="264.40" y="374.40" width="17.20" height="5.60" fill="none" stroke="#8fd14f" stroke-width="0.8"/>
<text x="273.00" y="378.90" font-size="4.3" text-anchor="middle" fill="#e41a1c">ZFP57</text>
<circle cx="415.40" cy="253.00" r="1.10" fill="#377eb8"/>
<circle cx="388.00" cy="304.40" r="1.10" fill="#377eb8"/>
<circle cx="394.40" cy="332.60" r="1.10" fill="#377eb8"/>
<circle cx="435.60" cy="337.60" r="1.10" fill="#377eb8"/>
<circle cx="394.00" cy="355.00" r="1.10" fill="#377eb8"/>
<circle cx="390.00" cy="364.00" r="1.10" fill="#377eb8"/>
<circle cx="445.60" cy="353.60" r="1.10" fill="#377eb8"/>
<circle cx="392.40" cy="369.40" r="1.10" fill="#377eb8"/>
<circle cx="416.00" cy="364.40" r="1.10" fill="#377eb8"/>
<circle cx="395.00" cy="372.00" r="1.10" fill="#377eb8"/>
<circle cx="398.00" cy="372.00" r="1.10" fill="#377eb8"/>
<circle cx="441.00" cy="379.00" r="1.10" fill="#377eb8"/>
<circle cx="443.00" cy="381.00" r="1.10" fill="#377eb8"/>
<circle cx="437.00" cy="380.00" r="1.10" fill="#377eb8"/>
<circle cx="391.00" cy="376.00" r="1.10" fill="#377eb8"/>
<circle cx="394.00" cy="378.00" r="1.10" fill="#377eb8"/>
<circle cx="397.00" cy="380.00" r="1.10" fill="#377eb8"/>
<circle cx="400.00" cy="376.00" r="1.10" fill="#377eb8"/>
<circle cx="403.00" cy="378.00" r="1.10" fill="#377eb8"/>
<circle cx="406.00" cy="381.00" r="1.10" fill="#377eb8"/>
<circle cx="392.00" cy="382.00" r="1.10" fill="#377eb8"/>
<circle cx="399.00" cy="383.00" r="1.10" fill="#377eb8"/>
<circle cx="404.00" cy="383.00" r="1.10" fill="#377eb8"/>
<circle cx="410.00" cy="379.00" r="1.10" fill="#377eb8"/>
<circle cx="414.00" cy="381.00" r="1.10" fill="#377eb8"/>
<circle cx="420.00" cy="382.00" r="1.10" fill="#377eb8"/>
<circle cx="430.00" cy="386.00" r="1.10" fill="#377eb8"/>
<circle cx="436.00" cy="384.00" r="1.10" fill="#377eb8"/>
<circle cx="446.00" cy="382.00" r="1.10" fill="#377eb8"/>
<circle cx="388.00" cy="380.00" r="1.10" fill="#377eb8"/>
<circle cx="382.00" cy="262.40" r="0.90" fill="#999999"/>
<circle cx="343.00" cy="326.00" r="0.90" fill="#999999"/>
<circle cx="343.00" cy="330.00" r="0.90" fill="#999999"/>
<text x="411.00" y="258.10" font-size="4.3" text-anchor="middle" fill="#377eb8">AC093110</text>
<text x="383.60" y="309.70" font-size="4.3" text-anchor="middle" fill="#377eb8">RP11−426L5</text>
<text x="398.60" y="331.10" font-size="4.3" text-anchor="middle" fill="#377eb8">RP11−463D20</text>
<text x="440.00" y="336.10" font-size="4.3" text-anchor="middle" fill="#377eb8">CTD−220169</text>
<text x="390.00" y="353.10" font-size="4.3" text-anchor="middle" fill="#377eb8">LINC01088</text>
<text x="394.00" y="362.70" font-size="4.3" text-anchor="middle" fill="#377eb8">MTMD2P7</text>
<text x="441.60" y="358.30" font-size="4.3" text-anchor="middle" fill="#377eb8">Y_RNA</text>
<text x="379.60" y="368.70" font-size="4.3" text-anchor="middle" fill="#377eb8">SLC1A3</text>
<text x="420.00" y="369.10" font-size="4.3" text-anchor="middle" fill="#377eb8">RNU4−29P</text>
<text x="384.00" y="374.30" font-size="4.3" text-anchor="middle" fill="#377eb8">RHBDD2</text>
<text x="437.00" y="377.30" font-size="4.3" text-anchor="middle" fill="#377eb8">MIR8083</text>
<text x="404.00" y="391.10" font-size="4.3" text-anchor="middle" fill="#377eb8">RP11−102L14</text>
<text x="440.00" y="391.10" font-size="4.3" text-anchor="middle" fill="#377eb8">CTD−2307O24</text>
<line x1="487.60" y1="246.00" x2="487.60" y2="409.60" stroke="#ebebeb" stroke-width="0.5"/>
<line x1="546.40" y1="246.00" x2="546.40" y2="409.60" stroke="#ebebeb" stroke-width="0.5"/>
<line x1="605.20" y1="246.00" x2="605.20" y2="409.60" stroke="#ebebeb" stroke-width="0.5"/>
<line x1="664.00" y1="246.00" x2="664.00" y2="409.60" stroke="#ebebeb" stroke-width="0.5"/>
<line x1="468.00" y1="387.45" x2="683.00" y2="387.45" stroke="#ebebeb" stroke-width="0.5"/>
<line x1="468.00" y1="358.35" x2="683.00" y2="358.35" stroke="#ebebeb" stroke-width="0.5"/>
<line x1="468.00" y1="329.25" x2="683.00" y2="329.25" stroke="#ebebeb" stroke-width="0.5"/>
<line x1="468.00" y1="300.15" x2="683.00" y2="300.15" stroke="#ebebeb" stroke-width="0.5"/>
<line x1="468.00" y1="271.05" x2="683.00" y2="271.05" stroke="#ebebeb" stroke-width="0.5"/>
<line x1="517.00" y1="246.00" x2="517.00" y2="409.60" stroke="#ebebeb" stroke-width="0.9"/>
<line x1="575.80" y1="246.00" x2="575.80" y2="409.60" stroke="#ebebeb" stroke-width="0.9"/>
<line x1="634.60" y1="246.00" x2="634.60" y2="409.60" stroke="#ebebeb" stroke-width="0.9"/>
<line x1="468.00" y1="402.00" x2="683.00" y2="402.00" stroke="#ebebeb" stroke-width="0.9"/>
<line x1="468.00" y1="372.90" x2="683.00" y2="372.90" stroke="#ebebeb" stroke-width="0.9"/>
<line x1="468.00" y1="343.80" x2="683.00" y2="343.80" stroke="#ebebeb" stroke-width="0.9"/>
<line x1="468.00" y1="314.70" x2="683.00" y2="314.70" stroke="#ebebeb" stroke-width="0.9"/>
<line x1="468.00" y1="285.60" x2="683.00" y2="285.60" stroke="#ebebeb" stroke-width="0.9"/>
<line x1="468.00" y1="256.50" x2="683.00" y2="256.50" stroke="#ebebeb" stroke-width="0.9"/>
<text x="572.00" y="238.40" font-size="11.5" text-anchor="middle">H3K27me3</text>
<text x="517.00" y="413.50" font-size="4.2" text-anchor="middle" fill="#4d4d4d">−2</text>
<text x="575.80" y="413.50" font-size="4.2" text-anchor="middle" fill="#4d4d4d">0</text>
<text x="634.60" y="413.50" font-size="4.2" text-anchor="middle" fill="#4d4d4d">2</text>
<text x="466.50" y="403.50" font-size="4.2" text-anchor="end" fill="#4d4d4d">0</text>
<text x="466.50" y="374.40" font-size="4.2" text-anchor="end" fill="#4d4d4d">1</text>
<text x="466.50" y="345.30" font-size="4.2" text-anchor="end" fill="#4d4d4d">2</text>
<text x="466.50" y="316.20" font-size="4.2" text-anchor="end" fill="#4d4d4d">3</text>
<text x="466.50" y="287.10" font-size="4.2" text-anchor="end" fill="#4d4d4d">4</text>
<text x="466.50" y="258.00" font-size="4.2" text-anchor="end" fill="#4d4d4d">5</text>
<text x="575.60" y="419.00" font-size="4.8" text-anchor="middle">logFC</text>
<text x="461.00" y="327.00" font-size="4.8" text-anchor="middle" transform="rotate(-90 461.00 327.00)">−log10(adj.P.Val)</text>
<path d="M487.80,381.80 L491.00,384.50 L495.40,387.30 L512.70,388.00 L533.50,386.60 L547.40,387.30 L556.00,388.00 L562.70,390.80 L568.20,395.50 L571.00,399.00 L574.00,400.60 L576.00,400.80 L578.50,400.40 L581.00,398.00 L583.00,394.00 L586.00,389.00 L592.00,388.20 L616.60,388.00 L644.30,389.40 L655.40,386.60 L656.80,389.40 L644.30,392.90 L616.60,397.70 L588.90,402.00 L576.00,402.80 L547.40,402.00 L526.60,397.70 L505.80,391.50 L495.40,388.40 L490.00,384.50 Z" fill="#999999"/>
<circle cx="581.43" cy="395.37" r="0.85" fill="#999999"/>
<circle cx="490.86" cy="383.05" r="0.85" fill="#999999"/>
<circle cx="593.24" cy="386.14" r="0.85" fill="#999999"/>
<circle cx="498.67" cy="383.49" r="0.85" fill="#999999"/>
<circle cx="621.03" cy="384.34" r="0.85" fill="#999999"/>
<circle cx="505.51" cy="386.65" r="0.85" fill="#999999"/>
<circle cx="494.49" cy="383.61" r="0.85" fill="#999999"/>
<circle cx="533.51" cy="386.08" r="0.85" fill="#999999"/>
<circle cx="559.16" cy="385.68" r="0.85" fill="#999999"/>
<circle cx="626.21" cy="387.45" r="0.85" fill="#999999"/>
<circle cx="513.04" cy="384.30" r="0.85" fill="#999999"/>
<circle cx="584.23" cy="389.15" r="0.85" fill="#999999"/>
<circle cx="502.92" cy="387.37" r="0.85" fill="#999999"/>
<circle cx="604.11" cy="386.40" r="0.85" fill="#999999"/>
<circle cx="500.04" cy="383.73" r="0.85" fill="#999999"/>
<circle cx="595.02" cy="384.97" r="0.85" fill="#999999"/>
<circle cx="501.95" cy="384.14" r="0.85" fill="#999999"/>
<circle cx="499.06" cy="384.00" r="0.85" fill="#999999"/>
<circle cx="564.49" cy="390.97" r="0.85" fill="#999999"/>
<circle cx="581.27" cy="393.76" r="0.85" fill="#999999"/>
<circle cx="533.07" cy="386.11" r="0.85" fill="#999999"/>
<circle cx="576.85" cy="399.71" r="0.85" fill="#999999"/>
<circle cx="506.30" cy="387.10" r="0.85" fill="#999999"/>
<circle cx="496.31" cy="386.53" r="0.85" fill="#999999"/>
<circle cx="540.53" cy="385.73" r="0.85" fill="#999999"/>
<circle cx="616.16" cy="386.84" r="0.85" fill="#999999"/>
<circle cx="572.31" cy="398.99" r="0.85" fill="#999999"/>
<circle cx="546.44" cy="387.18" r="0.85" fill="#999999"/>
<circle cx="530.13" cy="386.77" r="0.85" fill="#999999"/>
<circle cx="611.69" cy="385.84" r="0.85" fill="#999999"/>
<circle cx="519.82" cy="385.62" r="0.85" fill="#999999"/>
<circle cx="645.75" cy="388.61" r="0.85" fill="#999999"/>
<circle cx="626.20" cy="386.76" r="0.85" fill="#999999"/>
<circle cx="571.46" cy="395.90" r="0.85" fill="#999999"/>
<circle cx="554.23" cy="385.83" r="0.85" fill="#999999"/>
<circle cx="604.03" cy="384.17" r="0.85" fill="#999999"/>
<circle cx="545.72" cy="383.89" r="0.85" fill="#999999"/>
<circle cx="607.24" cy="385.53" r="0.85" fill="#999999"/>
<circle cx="556.19" cy="386.69" r="0.85" fill="#999999"/>
<circle cx="496.99" cy="386.85" r="0.85" fill="#999999"/>
<circle cx="499.75" cy="384.51" r="0.85" fill="#999999"/>
<circle cx="531.00" cy="386.12" r="0.85" fill="#999999"/>
<circle cx="502.08" cy="384.21" r="0.85" fill="#999999"/>
<circle cx="634.92" cy="386.24" r="0.85" fill="#999999"/>
<circle cx="535.45" cy="385.73" r="0.85" fill="#999999"/>
<circle cx="537.33" cy="384.95" r="0.85" fill="#999999"/>
<circle cx="514.42" cy="386.10" r="0.85" fill="#999999"/>
<circle cx="532.29" cy="382.83" r="0.85" fill="#999999"/>
<circle cx="652.17" cy="385.23" r="0.85" fill="#999999"/>
<circle cx="529.11" cy="383.03" r="0.85" fill="#999999"/>
<circle cx="540.11" cy="385.51" r="0.85" fill="#999999"/>
<circle cx="487.98" cy="380.43" r="0.85" fill="#999999"/>
<circle cx="568.01" cy="393.33" r="0.85" fill="#999999"/>
<circle cx="521.77" cy="385.37" r="0.85" fill="#999999"/>
<circle cx="488.64" cy="381.45" r="0.85" fill="#999999"/>
<circle cx="502.97" cy="386.01" r="0.85" fill="#999999"/>
<circle cx="494.84" cy="386.85" r="0.85" fill="#999999"/>
<circle cx="539.22" cy="385.96" r="0.85" fill="#999999"/>
<circle cx="586.76" cy="386.78" r="0.85" fill="#999999"/>
<circle cx="614.64" cy="385.39" r="0.85" fill="#999999"/>
<circle cx="608.80" cy="384.55" r="0.85" fill="#999999"/>
<circle cx="553.63" cy="386.50" r="0.85" fill="#999999"/>
<circle cx="654.22" cy="386.30" r="0.85" fill="#999999"/>
<circle cx="610.18" cy="385.48" r="0.85" fill="#999999"/>
<circle cx="495.20" cy="383.83" r="0.85" fill="#999999"/>
<circle cx="638.54" cy="386.60" r="0.85" fill="#999999"/>
<circle cx="611.82" cy="384.79" r="0.85" fill="#999999"/>
<circle cx="511.34" cy="385.85" r="0.85" fill="#999999"/>
<circle cx="573.04" cy="396.75" r="0.85" fill="#999999"/>
<circle cx="623.79" cy="385.06" r="0.85" fill="#999999"/>
<circle cx="586.51" cy="385.36" r="0.85" fill="#999999"/>
<circle cx="603.21" cy="385.34" r="0.85" fill="#999999"/>
<circle cx="526.66" cy="386.94" r="0.85" fill="#999999"/>
<circle cx="510.29" cy="386.46" r="0.85" fill="#999999"/>
<circle cx="505.53" cy="384.37" r="0.85" fill="#999999"/>
<circle cx="582.19" cy="393.11" r="0.85" fill="#999999"/>
<circle cx="593.63" cy="385.46" r="0.85" fill="#999999"/>
<circle cx="570.49" cy="398.35" r="0.85" fill="#999999"/>
<circle cx="622.61" cy="385.31" r="0.85" fill="#999999"/>
<circle cx="572.80" cy="397.82" r="0.85" fill="#999999"/>
<circle cx="599.22" cy="387.88" r="0.85" fill="#999999"/>
<circle cx="612.32" cy="387.03" r="0.85" fill="#999999"/>
<circle cx="500.38" cy="386.44" r="0.85" fill="#999999"/>
<circle cx="611.06" cy="387.22" r="0.85" fill="#999999"/>
<circle cx="612.83" cy="384.13" r="0.85" fill="#999999"/>
<circle cx="571.28" cy="397.62" r="0.85" fill="#999999"/>
<circle cx="568.75" cy="393.46" r="0.85" fill="#999999"/>
<circle cx="617.42" cy="385.57" r="0.85" fill="#999999"/>
<circle cx="596.43" cy="387.85" r="0.85" fill="#999999"/>
<circle cx="512.71" cy="386.98" r="0.85" fill="#999999"/>
<circle cx="496.00" cy="384.00" r="0.95" fill="#8f8f8f"/>
<circle cx="502.00" cy="384.00" r="0.95" fill="#8f8f8f"/>
<circle cx="508.00" cy="384.00" r="0.95" fill="#8f8f8f"/>
<circle cx="515.00" cy="384.00" r="0.95" fill="#8f8f8f"/>
<circle cx="520.00" cy="382.00" r="0.95" fill="#8f8f8f"/>
<circle cx="520.00" cy="386.00" r="0.95" fill="#8f8f8f"/>
<circle cx="535.00" cy="383.00" r="0.95" fill="#8f8f8f"/>
<circle cx="536.00" cy="379.50" r="0.95" fill="#8f8f8f"/>
<circle cx="541.00" cy="382.00" r="0.95" fill="#8f8f8f"/>
<circle cx="545.00" cy="381.00" r="0.95" fill="#8f8f8f"/>
<circle cx="548.00" cy="378.00" r="0.95" fill="#8f8f8f"/>
<circle cx="554.00" cy="384.00" r="0.95" fill="#8f8f8f"/>
<circle cx="560.00" cy="387.00" r="0.95" fill="#8f8f8f"/>
<circle cx="567.00" cy="389.00" r="0.95" fill="#8f8f8f"/>
<circle cx="590.00" cy="384.00" r="0.95" fill="#8f8f8f"/>
<circle cx="595.00" cy="383.50" r="0.95" fill="#8f8f8f"/>
<circle cx="597.00" cy="383.90" r="0.95" fill="#8f8f8f"/>
<circle cx="604.00" cy="383.80" r="0.95" fill="#8f8f8f"/>
<circle cx="609.00" cy="383.90" r="0.95" fill="#8f8f8f"/>
<circle cx="612.00" cy="384.00" r="0.95" fill="#8f8f8f"/>
<circle cx="618.00" cy="384.00" r="0.95" fill="#8f8f8f"/>
<circle cx="621.00" cy="384.00" r="0.95" fill="#8f8f8f"/>
<circle cx="652.00" cy="383.80" r="0.95" fill="#8f8f8f"/>
<circle cx="658.00" cy="383.80" r="0.95" fill="#8f8f8f"/>
<circle cx="663.00" cy="383.80" r="0.95" fill="#8f8f8f"/>
<circle cx="600.00" cy="387.00" r="0.95" fill="#8f8f8f"/>
<circle cx="632.00" cy="386.00" r="0.95" fill="#8f8f8f"/>
<circle cx="640.00" cy="386.00" r="0.95" fill="#8f8f8f"/>
<circle cx="652.00" cy="386.00" r="0.95" fill="#8f8f8f"/>
<line x1="468.00" y1="373.50" x2="683.00" y2="373.50" stroke="#f0393b" stroke-width="1"/>
<line x1="546.50" y1="246.00" x2="546.50" y2="409.60" stroke="#f0393b" stroke-width="1"/>
<line x1="604.80" y1="246.00" x2="604.80" y2="409.60" stroke="#f0393b" stroke-width="1"/>
<circle cx="514.00" cy="252.70" r="1.10" fill="#e41a1c"/>
<circle cx="477.80" cy="322.60" r="1.10" fill="#e41a1c"/>
<circle cx="497.00" cy="329.30" r="1.10" fill="#e41a1c"/>
<circle cx="530.60" cy="353.80" r="1.10" fill="#e41a1c"/>
<circle cx="477.00" cy="368.00" r="1.10" fill="#e41a1c"/>
<circle cx="480.00" cy="368.00" r="1.10" fill="#e41a1c"/>
<circle cx="488.00" cy="369.00" r="1.10" fill="#e41a1c"/>
<circle cx="502.50" cy="367.00" r="1.10" fill="#e41a1c"/>
<circle cx="530.00" cy="370.00" r="1.10" fill="#e41a1c"/>
<circle cx="534.00" cy="369.00" r="1.10" fill="#e41a1c"/>
<circle cx="545.00" cy="367.00" r="1.10" fill="#e41a1c"/>
<circle cx="541.00" cy="371.00" r="1.10" fill="#e41a1c"/>
<line x1="484.00" y1="369.00" x2="491.00" y2="360.00" stroke="#e41a1c" stroke-width="0.5"/>
<line x1="510.00" y1="377.00" x2="514.00" y2="371.00" stroke="#e41a1c" stroke-width="0.5"/>
<text x="509.70" y="258.10" font-size="4.3" text-anchor="middle" fill="#e41a1c">CCR7</text>
<text x="482.50" y="320.90" font-size="4.3" text-anchor="middle" fill="#e41a1c">LCE1D</text>
<text x="492.60" y="334.30" font-size="4.3" text-anchor="middle" fill="#e41a1c">TAS2R50</text>
<text x="534.60" y="352.70" font-size="4.3" text-anchor="middle" fill="#e41a1c">RNA5SP458</text>
<text x="502.70" y="361.20" font-size="4.3" text-anchor="middle" fill="#e41a1c">XGWW−44−1</text>
<text x="504.00" y="366.90" font-size="4.3" text-anchor="middle" fill="#e41a1c">TNFRSF8</text>
<text x="547.70" y="366.90" font-size="4.3" text-anchor="middle" fill="#e41a1c">Y_RNA</text>
<text x="478.50" y="366.90" font-size="4.3" text-anchor="middle" fill="#e41a1c">NRAN2P</text>
<text x="483.50" y="374.70" font-size="4.3" text-anchor="middle" fill="#e41a1c">RP11−463D11</text>
<text x="539.00" y="374.00" font-size="4.3" text-anchor="middle" fill="#e41a1c">TMEM45</text>
<text x="514.80" y="379.70" font-size="4.3" text-anchor="middle" fill="#e41a1c">CTD−2651B20</text>
<rect x="519.30" y="362.20" width="11.80" height="8.30" fill="none" stroke="#8fd14f" stroke-width="0.9"/>
<text x="525.20" y="367.50" font-size="4.3" text-anchor="middle" fill="#e41a1c">KLF7</text>
<circle cx="610.50" cy="345.00" r="1.10" fill="#377eb8"/>
<circle cx="640.00" cy="363.00" r="1.10" fill="#377eb8"/>
<circle cx="614.00" cy="370.00" r="1.10" fill="#377eb8"/>
<circle cx="622.00" cy="370.00" r="1.10" fill="#377eb8"/>
<circle cx="636.00" cy="371.00" r="1.10" fill="#377eb8"/>
<circle cx="666.00" cy="369.00" r="1.10" fill="#377eb8"/>
<circle cx="673.00" cy="368.00" r="1.10" fill="#377eb8"/>
<circle cx="592.00" cy="372.00" r="1.10" fill="#377eb8"/>
<text x="615.50" y="343.40" font-size="4.3" text-anchor="middle" fill="#377eb8">RPL34P26</text>
<text x="641.40" y="361.90" font-size="4.3" text-anchor="middle" fill="#377eb8">RP11−632P5</text>
<text x="612.80" y="367.20" font-size="4.3" text-anchor="middle" fill="#377eb8">RP11−329K6</text>
<text x="636.30" y="368.60" font-size="4.3" text-anchor="middle" fill="#377eb8">ITGB2</text>
<text x="669.20" y="366.90" font-size="4.3" text-anchor="middle" fill="#377eb8">RNA5SP177</text>
<text x="595.40" y="375.30" font-size="4.3" text-anchor="middle" fill="#377eb8">RP11−010P19</text>
<text x="616.20" y="374.00" font-size="4.3" text-anchor="middle" fill="#377eb8">RP3−</text>
<text x="628.60" y="374.00" font-size="4.3" text-anchor="middle" fill="#377eb8">IGSF7</text>
<text x="660.50" y="375.30" font-size="4.3" text-anchor="middle" fill="#377eb8">LL21NC02−1C16</text>
<text x="0.40" y="452.10" font-size="15" font-weight="bold">D</text>
<text x="87.20" y="452.00" font-size="15" font-weight="bold">E</text>
<text x="256.40" y="452.00" font-size="15" font-weight="bold">F</text>
<text x="55.20" y="451.50" font-size="8" font-weight="bold" text-anchor="middle">KLF7</text>
<text x="55.50" y="463.20" font-size="6.8" text-anchor="middle">P=0.0728</text>
<line x1="42.80" y1="466.80" x2="68.60" y2="466.80" stroke="#111" stroke-width="1.6"/>
<rect x="35.80" y="485.15" width="14.40" height="59.45" fill="#e8898b" stroke="#111" stroke-width="1.5"/>
<rect x="59.50" y="513.15" width="14.40" height="31.45" fill="#92b9de" stroke="#111" stroke-width="1.5"/>
<line x1="43.00" y1="478.50" x2="43.00" y2="490.20" stroke="#e0393b" stroke-width="0.9"/>
<line x1="39.40" y1="478.50" x2="46.60" y2="478.50" stroke="#e0393b" stroke-width="0.9"/>
<line x1="39.40" y1="490.20" x2="46.60" y2="490.20" stroke="#e0393b" stroke-width="0.9"/>
<line x1="66.70" y1="502.00" x2="66.70" y2="522.00" stroke="#4a8fd0" stroke-width="0.9"/>
<line x1="63.10" y1="502.00" x2="70.30" y2="502.00" stroke="#4a8fd0" stroke-width="0.9"/>
<line x1="63.10" y1="522.00" x2="70.30" y2="522.00" stroke="#4a8fd0" stroke-width="0.9"/>
<circle cx="43.00" cy="469.80" r="1.35" fill="#e31a1c"/>
<circle cx="43.00" cy="482.80" r="1.35" fill="#e31a1c"/>
<circle cx="43.00" cy="486.90" r="1.35" fill="#e31a1c"/>
<circle cx="43.00" cy="498.30" r="1.35" fill="#e31a1c"/>
<rect x="65.70" y="496.10" width="2.60" height="2.60" fill="#3a84c6"/>
<rect x="65.70" y="506.70" width="2.60" height="2.60" fill="#3a84c6"/>
<rect x="65.70" y="520.20" width="2.60" height="2.60" fill="#3a84c6"/>
<line x1="27.60" y1="462.20" x2="27.60" y2="545.40" stroke="#111" stroke-width="1.6"/>
<line x1="26.30" y1="544.60" x2="82.40" y2="544.60" stroke="#111" stroke-width="1.6"/>
<line x1="23.10" y1="544.60" x2="27.10" y2="544.60" stroke="#111" stroke-width="1.2"/>
<text x="22.50" y="547.00" font-size="6.6" font-weight="bold" text-anchor="end" fill="#111">0</text>
<line x1="23.10" y1="524.12" x2="27.10" y2="524.12" stroke="#111" stroke-width="1.2"/>
<text x="22.50" y="526.52" font-size="6.6" font-weight="bold" text-anchor="end" fill="#111">5</text>
<line x1="23.10" y1="503.65" x2="27.10" y2="503.65" stroke="#111" stroke-width="1.2"/>
<text x="22.50" y="506.05" font-size="6.6" font-weight="bold" text-anchor="end" fill="#111">10</text>
<line x1="23.10" y1="483.18" x2="27.10" y2="483.18" stroke="#111" stroke-width="1.2"/>
<text x="22.50" y="485.57" font-size="6.6" font-weight="bold" text-anchor="end" fill="#111">15</text>
<line x1="23.10" y1="462.70" x2="27.10" y2="462.70" stroke="#111" stroke-width="1.2"/>
<text x="22.50" y="465.10" font-size="6.6" font-weight="bold" text-anchor="end" fill="#111">20</text>
<line x1="43.00" y1="544.60" x2="43.00" y2="547.60" stroke="#111" stroke-width="1.2"/>
<line x1="66.70" y1="544.60" x2="66.70" y2="547.60" stroke="#111" stroke-width="1.2"/>
<text x="44.50" y="553.50" font-size="6.3" font-weight="bold" text-anchor="end" fill="#111" transform="rotate(-45 44.50 553.50)">Low expander</text>
<text x="68.20" y="553.50" font-size="6.3" font-weight="bold" text-anchor="end" fill="#111" transform="rotate(-45 68.20 553.50)">High expander</text>
<text x="12.40" y="503.50" font-size="6.9" font-weight="bold" text-anchor="middle" fill="#111" transform="rotate(-90 12.40 503.50)">Scaled H3K27me3 + 1</text>
<text x="141.40" y="451.50" font-size="8" font-weight="bold" text-anchor="middle">CCR7</text>
<text x="141.50" y="460.00" font-size="6.8" text-anchor="middle">P=7.93x10<tspan dy="-2.6" font-size="4.6">−6</tspan></text>
<line x1="129.60" y1="463.60" x2="154.00" y2="463.60" stroke="#111" stroke-width="1.6"/>
<rect x="122.80" y="490.35" width="14.40" height="54.25" fill="#e8898b" stroke="#111" stroke-width="1.5"/>
<rect x="145.80" y="523.15" width="14.40" height="21.45" fill="#92b9de" stroke="#111" stroke-width="1.5"/>
<line x1="130.00" y1="480.60" x2="130.00" y2="498.00" stroke="#e0393b" stroke-width="0.9"/>
<line x1="126.40" y1="480.60" x2="133.60" y2="480.60" stroke="#e0393b" stroke-width="0.9"/>
<line x1="126.40" y1="498.00" x2="133.60" y2="498.00" stroke="#e0393b" stroke-width="0.9"/>
<line x1="153.00" y1="514.40" x2="153.00" y2="531.00" stroke="#4a8fd0" stroke-width="0.9"/>
<line x1="149.40" y1="514.40" x2="156.60" y2="514.40" stroke="#4a8fd0" stroke-width="0.9"/>
<line x1="149.40" y1="531.00" x2="156.60" y2="531.00" stroke="#4a8fd0" stroke-width="0.9"/>
<circle cx="130.00" cy="467.00" r="1.35" fill="#e31a1c"/>
<circle cx="130.00" cy="487.00" r="1.35" fill="#e31a1c"/>
<circle cx="130.00" cy="497.00" r="1.35" fill="#e31a1c"/>
<circle cx="130.00" cy="505.60" r="1.35" fill="#e31a1c"/>
<rect x="151.70" y="509.70" width="2.60" height="2.60" fill="#3a84c6"/>
<rect x="151.70" y="518.10" width="2.60" height="2.60" fill="#3a84c6"/>
<rect x="151.70" y="532.70" width="2.60" height="2.60" fill="#3a84c6"/>
<line x1="115.10" y1="461.70" x2="115.10" y2="545.40" stroke="#111" stroke-width="1.6"/>
<line x1="113.80" y1="544.60" x2="169.50" y2="544.60" stroke="#111" stroke-width="1.6"/>
<line x1="110.60" y1="544.60" x2="114.60" y2="544.60" stroke="#111" stroke-width="1.2"/>
<text x="110.00" y="547.00" font-size="6.6" font-weight="bold" text-anchor="end" fill="#111">0</text>
<line x1="110.60" y1="517.13" x2="114.60" y2="517.13" stroke="#111" stroke-width="1.2"/>
<text x="110.00" y="519.53" font-size="6.6" font-weight="bold" text-anchor="end" fill="#111">10</text>
<line x1="110.60" y1="489.67" x2="114.60" y2="489.67" stroke="#111" stroke-width="1.2"/>
<text x="110.00" y="492.07" font-size="6.6" font-weight="bold" text-anchor="end" fill="#111">20</text>
<line x1="110.60" y1="462.20" x2="114.60" y2="462.20" stroke="#111" stroke-width="1.2"/>
<text x="110.00" y="464.60" font-size="6.6" font-weight="bold" text-anchor="end" fill="#111">30</text>
<line x1="130.00" y1="544.60" x2="130.00" y2="547.60" stroke="#111" stroke-width="1.2"/>
<line x1="153.00" y1="544.60" x2="153.00" y2="547.60" stroke="#111" stroke-width="1.2"/>
<text x="131.50" y="553.50" font-size="6.3" font-weight="bold" text-anchor="end" fill="#111" transform="rotate(-45 131.50 553.50)">Low expander</text>
<text x="154.50" y="553.50" font-size="6.3" font-weight="bold" text-anchor="end" fill="#111" transform="rotate(-45 154.50 553.50)">High expander</text>
<text x="99.40" y="503.50" font-size="6.9" font-weight="bold" text-anchor="middle" fill="#111" transform="rotate(-90 99.40 503.50)">Scaled H3K27me3 + 1</text>
<text x="228.40" y="451.50" font-size="8" font-weight="bold" text-anchor="middle">TMEM45</text>
<text x="229.40" y="463.20" font-size="6.8" text-anchor="middle">P=0.0728</text>
<line x1="216.00" y1="466.60" x2="242.00" y2="466.60" stroke="#111" stroke-width="1.6"/>
<rect x="209.60" y="493.15" width="14.40" height="51.45" fill="#e8898b" stroke="#111" stroke-width="1.5"/>
<rect x="233.10" y="515.15" width="14.40" height="29.45" fill="#92b9de" stroke="#111" stroke-width="1.5"/>
<line x1="216.80" y1="485.40" x2="216.80" y2="499.00" stroke="#e0393b" stroke-width="0.9"/>
<line x1="213.20" y1="485.40" x2="220.40" y2="485.40" stroke="#e0393b" stroke-width="0.9"/>
<line x1="213.20" y1="499.00" x2="220.40" y2="499.00" stroke="#e0393b" stroke-width="0.9"/>
<line x1="240.30" y1="507.00" x2="240.30" y2="528.00" stroke="#4a8fd0" stroke-width="0.9"/>
<line x1="236.70" y1="507.00" x2="243.90" y2="507.00" stroke="#4a8fd0" stroke-width="0.9"/>
<line x1="236.70" y1="528.00" x2="243.90" y2="528.00" stroke="#4a8fd0" stroke-width="0.9"/>
<circle cx="216.80" cy="476.40" r="1.35" fill="#e31a1c"/>
<circle cx="216.80" cy="489.00" r="1.35" fill="#e31a1c"/>
<circle cx="216.80" cy="497.00" r="1.35" fill="#e31a1c"/>
<circle cx="216.80" cy="504.00" r="1.35" fill="#e31a1c"/>
<rect x="236.70" y="504.30" width="2.60" height="2.60" fill="#3a84c6"/>
<rect x="241.10" y="505.70" width="2.60" height="2.60" fill="#3a84c6"/>
<rect x="239.00" y="528.70" width="2.60" height="2.60" fill="#3a84c6"/>
<line x1="201.50" y1="461.90" x2="201.50" y2="545.40" stroke="#111" stroke-width="1.6"/>
<line x1="200.20" y1="544.60" x2="256.00" y2="544.60" stroke="#111" stroke-width="1.6"/>
<line x1="197.00" y1="544.60" x2="201.00" y2="544.60" stroke="#111" stroke-width="1.2"/>
<text x="196.40" y="547.00" font-size="6.6" font-weight="bold" text-anchor="end" fill="#111">0</text>
<line x1="197.00" y1="528.16" x2="201.00" y2="528.16" stroke="#111" stroke-width="1.2"/>
<text x="196.40" y="530.56" font-size="6.6" font-weight="bold" text-anchor="end" fill="#111">5</text>
<line x1="197.00" y1="511.72" x2="201.00" y2="511.72" stroke="#111" stroke-width="1.2"/>
<text x="196.40" y="514.12" font-size="6.6" font-weight="bold" text-anchor="end" fill="#111">10</text>
<line x1="197.00" y1="495.28" x2="201.00" y2="495.28" stroke="#111" stroke-width="1.2"/>
<text x="196.40" y="497.68" font-size="6.6" font-weight="bold" text-anchor="end" fill="#111">15</text>
<line x1="197.00" y1="478.84" x2="201.00" y2="478.84" stroke="#111" stroke-width="1.2"/>
<text x="196.40" y="481.24" font-size="6.6" font-weight="bold" text-anchor="end" fill="#111">20</text>
<line x1="197.00" y1="462.40" x2="201.00" y2="462.40" stroke="#111" stroke-width="1.2"/>
<text x="196.40" y="464.80" font-size="6.6" font-weight="bold" text-anchor="end" fill="#111">25</text>
<line x1="216.80" y1="544.60" x2="216.80" y2="547.60" stroke="#111" stroke-width="1.2"/>
<line x1="240.30" y1="544.60" x2="240.30" y2="547.60" stroke="#111" stroke-width="1.2"/>
<text x="218.30" y="553.50" font-size="6.3" font-weight="bold" text-anchor="end" fill="#111" transform="rotate(-45 218.30 553.50)">Low expander</text>
<text x="241.80" y="553.50" font-size="6.3" font-weight="bold" text-anchor="end" fill="#111" transform="rotate(-45 241.80 553.50)">High expander</text>
<text x="185.40" y="503.50" font-size="6.9" font-weight="bold" text-anchor="middle" fill="#111" transform="rotate(-90 185.40 503.50)">Scaled H3K27me3 + 1</text>
<text x="315.00" y="451.50" font-size="8" font-weight="bold" text-anchor="middle">RHBDD2</text>
<text x="314.50" y="463.20" font-size="6.8" text-anchor="middle">P=0.0065</text>
<line x1="303.00" y1="466.00" x2="326.40" y2="466.00" stroke="#111" stroke-width="1.6"/>
<rect x="295.80" y="506.35" width="14.40" height="38.25" fill="#e8898b" stroke="#111" stroke-width="1.5"/>
<rect x="319.30" y="480.75" width="14.40" height="63.85" fill="#92b9de" stroke="#111" stroke-width="1.5"/>
<line x1="303.00" y1="499.40" x2="303.00" y2="513.00" stroke="#e0393b" stroke-width="0.9"/>
<line x1="299.40" y1="499.40" x2="306.60" y2="499.40" stroke="#e0393b" stroke-width="0.9"/>
<line x1="299.40" y1="513.00" x2="306.60" y2="513.00" stroke="#e0393b" stroke-width="0.9"/>
<line x1="326.50" y1="479.00" x2="326.50" y2="480.60" stroke="#4a8fd0" stroke-width="0.9"/>
<line x1="322.90" y1="479.00" x2="330.10" y2="479.00" stroke="#4a8fd0" stroke-width="0.9"/>
<line x1="322.90" y1="480.60" x2="330.10" y2="480.60" stroke="#4a8fd0" stroke-width="0.9"/>
<circle cx="303.00" cy="494.00" r="1.35" fill="#e31a1c"/>
<circle cx="303.00" cy="506.00" r="1.35" fill="#e31a1c"/>
<circle cx="303.00" cy="511.00" r="1.35" fill="#e31a1c"/>
<circle cx="303.00" cy="519.00" r="1.35" fill="#e31a1c"/>
<rect x="321.20" y="477.90" width="2.60" height="2.60" fill="#3a84c6"/>
<rect x="325.20" y="478.10" width="2.60" height="2.60" fill="#3a84c6"/>
<rect x="329.20" y="477.90" width="2.60" height="2.60" fill="#3a84c6"/>
<line x1="288.10" y1="461.90" x2="288.10" y2="545.40" stroke="#111" stroke-width="1.6"/>
<line x1="286.80" y1="544.60" x2="341.50" y2="544.60" stroke="#111" stroke-width="1.6"/>
<line x1="283.60" y1="544.60" x2="287.60" y2="544.60" stroke="#111" stroke-width="1.2"/>
<text x="283.00" y="547.00" font-size="6.6" font-weight="bold" text-anchor="end" fill="#111">0</text>
<line x1="283.60" y1="517.20" x2="287.60" y2="517.20" stroke="#111" stroke-width="1.2"/>
<text x="283.00" y="519.60" font-size="6.6" font-weight="bold" text-anchor="end" fill="#111">5</text>
<line x1="283.60" y1="489.80" x2="287.60" y2="489.80" stroke="#111" stroke-width="1.2"/>
<text x="283.00" y="492.20" font-size="6.6" font-weight="bold" text-anchor="end" fill="#111">10</text>
<line x1="283.60" y1="462.40" x2="287.60" y2="462.40" stroke="#111" stroke-width="1.2"/>
<text x="283.00" y="464.80" font-size="6.6" font-weight="bold" text-anchor="end" fill="#111">15</text>
<line x1="303.00" y1="544.60" x2="303.00" y2="547.60" stroke="#111" stroke-width="1.2"/>
<line x1="326.50" y1="544.60" x2="326.50" y2="547.60" stroke="#111" stroke-width="1.2"/>
<text x="304.50" y="553.50" font-size="6.3" font-weight="bold" text-anchor="end" fill="#111" transform="rotate(-45 304.50 553.50)">Low expander</text>
<text x="328.00" y="553.50" font-size="6.3" font-weight="bold" text-anchor="end" fill="#111" transform="rotate(-45 328.00 553.50)">High expander</text>
<text x="271.90" y="503.50" font-size="6.9" font-weight="bold" text-anchor="middle" fill="#111" transform="rotate(-90 271.90 503.50)">Scaled H3K4me2 + 1</text>
<text x="401.60" y="451.50" font-size="8" font-weight="bold" text-anchor="middle">SLAMF7</text>
<text x="401.50" y="461.00" font-size="6.8" text-anchor="middle">P=9.44x10<tspan dy="-2.6" font-size="4.6">−5</tspan></text>
<line x1="389.60" y1="465.60" x2="414.00" y2="465.60" stroke="#111" stroke-width="1.6"/>
<rect x="382.80" y="484.35" width="14.40" height="60.25" fill="#e8898b" stroke="#111" stroke-width="1.5"/>
<rect x="405.80" y="504.15" width="14.40" height="40.45" fill="#92b9de" stroke="#111" stroke-width="1.5"/>
<line x1="390.00" y1="479.00" x2="390.00" y2="488.00" stroke="#e0393b" stroke-width="0.9"/>
<line x1="386.40" y1="479.00" x2="393.60" y2="479.00" stroke="#e0393b" stroke-width="0.9"/>
<line x1="386.40" y1="488.00" x2="393.60" y2="488.00" stroke="#e0393b" stroke-width="0.9"/>
<line x1="413.00" y1="497.60" x2="413.00" y2="509.00" stroke="#4a8fd0" stroke-width="0.9"/>
<line x1="409.40" y1="497.60" x2="416.60" y2="497.60" stroke="#4a8fd0" stroke-width="0.9"/>
<line x1="409.40" y1="509.00" x2="416.60" y2="509.00" stroke="#4a8fd0" stroke-width="0.9"/>
<circle cx="390.00" cy="473.00" r="1.35" fill="#e31a1c"/>
<circle cx="390.00" cy="483.60" r="1.35" fill="#e31a1c"/>
<circle cx="390.00" cy="489.60" r="1.35" fill="#e31a1c"/>
<rect x="411.70" y="492.70" width="2.60" height="2.60" fill="#3a84c6"/>
<rect x="411.70" y="500.10" width="2.60" height="2.60" fill="#3a84c6"/>
<rect x="411.70" y="511.10" width="2.60" height="2.60" fill="#3a84c6"/>
<line x1="374.10" y1="462.50" x2="374.10" y2="545.40" stroke="#111" stroke-width="1.6"/>
<line x1="372.80" y1="544.60" x2="428.50" y2="544.60" stroke="#111" stroke-width="1.6"/>
<line x1="369.60" y1="544.60" x2="373.60" y2="544.60" stroke="#111" stroke-width="1.2"/>
<text x="369.00" y="547.00" font-size="6.6" font-weight="bold" text-anchor="end" fill="#111">0</text>
<line x1="369.60" y1="524.20" x2="373.60" y2="524.20" stroke="#111" stroke-width="1.2"/>
<text x="369.00" y="526.60" font-size="6.6" font-weight="bold" text-anchor="end" fill="#111">5</text>
<line x1="369.60" y1="503.80" x2="373.60" y2="503.80" stroke="#111" stroke-width="1.2"/>
<text x="369.00" y="506.20" font-size="6.6" font-weight="bold" text-anchor="end" fill="#111">10</text>
<line x1="369.60" y1="483.40" x2="373.60" y2="483.40" stroke="#111" stroke-width="1.2"/>
<text x="369.00" y="485.80" font-size="6.6" font-weight="bold" text-anchor="end" fill="#111">15</text>
<line x1="369.60" y1="463.00" x2="373.60" y2="463.00" stroke="#111" stroke-width="1.2"/>
<text x="369.00" y="465.40" font-size="6.6" font-weight="bold" text-anchor="end" fill="#111">20</text>
<line x1="390.00" y1="544.60" x2="390.00" y2="547.60" stroke="#111" stroke-width="1.2"/>
<line x1="413.00" y1="544.60" x2="413.00" y2="547.60" stroke="#111" stroke-width="1.2"/>
<text x="391.50" y="553.50" font-size="6.3" font-weight="bold" text-anchor="end" fill="#111" transform="rotate(-45 391.50 553.50)">Low expander</text>
<text x="414.50" y="553.50" font-size="6.3" font-weight="bold" text-anchor="end" fill="#111" transform="rotate(-45 414.50 553.50)">High expander</text>
<text x="358.80" y="503.50" font-size="6.9" font-weight="bold" text-anchor="middle" fill="#111" transform="rotate(-90 358.80 503.50)">Scaled H3K4me2 + 1</text>
<text x="488.00" y="451.50" font-size="8" font-weight="bold" text-anchor="middle">LIPC</text>
<text x="488.00" y="463.20" font-size="6.8" text-anchor="middle">P=0.0071</text>
<line x1="476.60" y1="465.40" x2="499.60" y2="465.40" stroke="#111" stroke-width="1.6"/>
<rect x="469.30" y="489.75" width="14.40" height="54.85" fill="#e8898b" stroke="#111" stroke-width="1.5"/>
<rect x="492.80" y="515.15" width="14.40" height="29.45" fill="#92b9de" stroke="#111" stroke-width="1.5"/>
<line x1="476.50" y1="481.00" x2="476.50" y2="495.60" stroke="#e0393b" stroke-width="0.9"/>
<line x1="472.90" y1="481.00" x2="480.10" y2="481.00" stroke="#e0393b" stroke-width="0.9"/>
<line x1="472.90" y1="495.60" x2="480.10" y2="495.60" stroke="#e0393b" stroke-width="0.9"/>
<line x1="500.00" y1="509.60" x2="500.00" y2="519.00" stroke="#4a8fd0" stroke-width="0.9"/>
<line x1="496.40" y1="509.60" x2="503.60" y2="509.60" stroke="#4a8fd0" stroke-width="0.9"/>
<line x1="496.40" y1="519.00" x2="503.60" y2="519.00" stroke="#4a8fd0" stroke-width="0.9"/>
<circle cx="476.50" cy="471.60" r="1.35" fill="#e31a1c"/>
<circle cx="476.50" cy="488.00" r="1.35" fill="#e31a1c"/>
<circle cx="479.60" cy="488.00" r="1.35" fill="#e31a1c"/>
<circle cx="476.50" cy="508.40" r="1.35" fill="#e31a1c"/>
<rect x="498.70" y="505.10" width="2.60" height="2.60" fill="#3a84c6"/>
<rect x="498.70" y="511.70" width="2.60" height="2.60" fill="#3a84c6"/>
<rect x="498.70" y="519.70" width="2.60" height="2.60" fill="#3a84c6"/>
<line x1="461.50" y1="462.50" x2="461.50" y2="545.40" stroke="#111" stroke-width="1.6"/>
<line x1="460.20" y1="544.60" x2="515.50" y2="544.60" stroke="#111" stroke-width="1.6"/>
<line x1="457.00" y1="544.60" x2="461.00" y2="544.60" stroke="#111" stroke-width="1.2"/>
<text x="456.40" y="547.00" font-size="6.6" font-weight="bold" text-anchor="end" fill="#111">0</text>
<line x1="457.00" y1="524.20" x2="461.00" y2="524.20" stroke="#111" stroke-width="1.2"/>
<text x="456.40" y="526.60" font-size="6.6" font-weight="bold" text-anchor="end" fill="#111">5</text>
<line x1="457.00" y1="503.80" x2="461.00" y2="503.80" stroke="#111" stroke-width="1.2"/>
<text x="456.40" y="506.20" font-size="6.6" font-weight="bold" text-anchor="end" fill="#111">10</text>
<line x1="457.00" y1="483.40" x2="461.00" y2="483.40" stroke="#111" stroke-width="1.2"/>
<text x="456.40" y="485.80" font-size="6.6" font-weight="bold" text-anchor="end" fill="#111">15</text>
<line x1="457.00" y1="463.00" x2="461.00" y2="463.00" stroke="#111" stroke-width="1.2"/>
<text x="456.40" y="465.40" font-size="6.6" font-weight="bold" text-anchor="end" fill="#111">20</text>
<line x1="476.50" y1="544.60" x2="476.50" y2="547.60" stroke="#111" stroke-width="1.2"/>
<line x1="500.00" y1="544.60" x2="500.00" y2="547.60" stroke="#111" stroke-width="1.2"/>
<text x="478.00" y="553.50" font-size="6.3" font-weight="bold" text-anchor="end" fill="#111" transform="rotate(-45 478.00 553.50)">Low expander</text>
<text x="501.50" y="553.50" font-size="6.3" font-weight="bold" text-anchor="end" fill="#111" transform="rotate(-45 501.50 553.50)">High expander</text>
<text x="446.20" y="503.50" font-size="6.9" font-weight="bold" text-anchor="middle" fill="#111" transform="rotate(-90 446.20 503.50)">Scaled H3K4me2 + 1</text>
<text x="574.60" y="451.50" font-size="8" font-weight="bold" text-anchor="middle">CLIC3</text>
<text x="575.50" y="463.20" font-size="6.8" text-anchor="middle">P=0.0399</text>
<line x1="562.40" y1="466.40" x2="589.00" y2="466.40" stroke="#111" stroke-width="1.6"/>
<rect x="555.80" y="491.75" width="14.40" height="52.85" fill="#e8898b" stroke="#111" stroke-width="1.5"/>
<rect x="579.30" y="513.75" width="14.40" height="30.85" fill="#92b9de" stroke="#111" stroke-width="1.5"/>
<line x1="563.00" y1="486.60" x2="563.00" y2="496.00" stroke="#e0393b" stroke-width="0.9"/>
<line x1="559.40" y1="486.60" x2="566.60" y2="486.60" stroke="#e0393b" stroke-width="0.9"/>
<line x1="559.40" y1="496.00" x2="566.60" y2="496.00" stroke="#e0393b" stroke-width="0.9"/>
<line x1="586.50" y1="507.00" x2="586.50" y2="518.50" stroke="#4a8fd0" stroke-width="0.9"/>
<line x1="582.90" y1="507.00" x2="590.10" y2="507.00" stroke="#4a8fd0" stroke-width="0.9"/>
<line x1="582.90" y1="518.50" x2="590.10" y2="518.50" stroke="#4a8fd0" stroke-width="0.9"/>
<circle cx="563.00" cy="479.60" r="1.35" fill="#e31a1c"/>
<circle cx="563.00" cy="493.60" r="1.35" fill="#e31a1c"/>
<circle cx="563.00" cy="498.60" r="1.35" fill="#e31a1c"/>
<rect x="585.20" y="500.30" width="2.60" height="2.60" fill="#3a84c6"/>
<rect x="585.20" y="513.70" width="2.60" height="2.60" fill="#3a84c6"/>
<rect x="585.20" y="521.10" width="2.60" height="2.60" fill="#3a84c6"/>
<line x1="548.10" y1="461.90" x2="548.10" y2="545.40" stroke="#111" stroke-width="1.6"/>
<line x1="546.80" y1="544.60" x2="602.40" y2="544.60" stroke="#111" stroke-width="1.6"/>
<line x1="543.60" y1="544.60" x2="547.60" y2="544.60" stroke="#111" stroke-width="1.2"/>
<text x="543.00" y="547.00" font-size="6.6" font-weight="bold" text-anchor="end" fill="#111">0</text>
<line x1="543.60" y1="517.20" x2="547.60" y2="517.20" stroke="#111" stroke-width="1.2"/>
<text x="543.00" y="519.60" font-size="6.6" font-weight="bold" text-anchor="end" fill="#111">5</text>
<line x1="543.60" y1="489.80" x2="547.60" y2="489.80" stroke="#111" stroke-width="1.2"/>
<text x="543.00" y="492.20" font-size="6.6" font-weight="bold" text-anchor="end" fill="#111">10</text>
<line x1="543.60" y1="462.40" x2="547.60" y2="462.40" stroke="#111" stroke-width="1.2"/>
<text x="543.00" y="464.80" font-size="6.6" font-weight="bold" text-anchor="end" fill="#111">15</text>
<line x1="563.00" y1="544.60" x2="563.00" y2="547.60" stroke="#111" stroke-width="1.2"/>
<line x1="586.50" y1="544.60" x2="586.50" y2="547.60" stroke="#111" stroke-width="1.2"/>
<text x="564.50" y="553.50" font-size="6.3" font-weight="bold" text-anchor="end" fill="#111" transform="rotate(-45 564.50 553.50)">Low expander</text>
<text x="588.00" y="553.50" font-size="6.3" font-weight="bold" text-anchor="end" fill="#111" transform="rotate(-45 588.00 553.50)">High expander</text>
<text x="531.90" y="503.50" font-size="6.9" font-weight="bold" text-anchor="middle" fill="#111" transform="rotate(-90 531.90 503.50)">Scaled H3K4me2 + 1</text>
<text x="657.00" y="451.50" font-size="8" font-weight="bold" text-anchor="middle">ZFP57</text>
<text x="656.70" y="460.50" font-size="6.8" text-anchor="middle">P=0.0256</text>
<line x1="643.60" y1="463.40" x2="669.00" y2="463.40" stroke="#111" stroke-width="1.6"/>
<rect x="638.30" y="494.15" width="14.40" height="50.45" fill="#e8898b" stroke="#111" stroke-width="1.5"/>
<rect x="661.30" y="530.35" width="14.40" height="14.25" fill="#92b9de" stroke="#111" stroke-width="1.5"/>
<line x1="645.50" y1="480.00" x2="645.50" y2="507.00" stroke="#e0393b" stroke-width="0.9"/>
<line x1="641.90" y1="480.00" x2="649.10" y2="480.00" stroke="#e0393b" stroke-width="0.9"/>
<line x1="641.90" y1="507.00" x2="649.10" y2="507.00" stroke="#e0393b" stroke-width="0.9"/>
<line x1="668.50" y1="526.00" x2="668.50" y2="533.00" stroke="#4a8fd0" stroke-width="0.9"/>
<line x1="664.90" y1="526.00" x2="672.10" y2="526.00" stroke="#4a8fd0" stroke-width="0.9"/>
<line x1="664.90" y1="533.00" x2="672.10" y2="533.00" stroke="#4a8fd0" stroke-width="0.9"/>
<circle cx="645.50" cy="469.00" r="1.35" fill="#e31a1c"/>
<circle cx="645.50" cy="478.60" r="1.35" fill="#e31a1c"/>
<circle cx="645.50" cy="496.00" r="1.35" fill="#e31a1c"/>
<circle cx="645.50" cy="527.60" r="1.35" fill="#e31a1c"/>
<rect x="667.20" y="523.70" width="2.60" height="2.60" fill="#3a84c6"/>
<rect x="664.70" y="528.70" width="2.60" height="2.60" fill="#3a84c6"/>
<rect x="669.70" y="528.70" width="2.60" height="2.60" fill="#3a84c6"/>
<line x1="629.90" y1="461.90" x2="629.90" y2="545.40" stroke="#111" stroke-width="1.6"/>
<line x1="628.60" y1="544.60" x2="685.00" y2="544.60" stroke="#111" stroke-width="1.6"/>
<line x1="625.40" y1="544.60" x2="629.40" y2="544.60" stroke="#111" stroke-width="1.2"/>
<text x="624.80" y="547.00" font-size="6.6" font-weight="bold" text-anchor="end" fill="#111">0</text>
<line x1="625.40" y1="517.20" x2="629.40" y2="517.20" stroke="#111" stroke-width="1.2"/>
<text x="624.80" y="519.60" font-size="6.6" font-weight="bold" text-anchor="end" fill="#111">2</text>
<line x1="625.40" y1="489.80" x2="629.40" y2="489.80" stroke="#111" stroke-width="1.2"/>
<text x="624.80" y="492.20" font-size="6.6" font-weight="bold" text-anchor="end" fill="#111">4</text>
<line x1="625.40" y1="462.40" x2="629.40" y2="462.40" stroke="#111" stroke-width="1.2"/>
<text x="624.80" y="464.80" font-size="6.6" font-weight="bold" text-anchor="end" fill="#111">6</text>
<line x1="645.50" y1="544.60" x2="645.50" y2="547.60" stroke="#111" stroke-width="1.2"/>
<line x1="668.50" y1="544.60" x2="668.50" y2="547.60" stroke="#111" stroke-width="1.2"/>
<text x="647.00" y="553.50" font-size="6.3" font-weight="bold" text-anchor="end" fill="#111" transform="rotate(-45 647.00 553.50)">Low expander</text>
<text x="670.00" y="553.50" font-size="6.3" font-weight="bold" text-anchor="end" fill="#111" transform="rotate(-45 670.00 553.50)">High expander</text>
<text x="618.60" y="503.50" font-size="6.9" font-weight="bold" text-anchor="middle" fill="#111" transform="rotate(-90 618.60 503.50)">Scaled H3K4me2 + 1</text>
<text x="0.00" y="606.90" font-size="15" font-weight="bold">G</text>
<line x1="71.00" y1="780.40" x2="78.50" y2="780.40" stroke="#000" stroke-width="1.6"/>
<text x="70.40" y="784.50" font-size="11.6" font-weight="bold" text-anchor="end">0</text>
<line x1="71.00" y1="727.47" x2="78.50" y2="727.47" stroke="#000" stroke-width="1.6"/>
<text x="70.40" y="731.57" font-size="11.6" font-weight="bold" text-anchor="end">20</text>
<line x1="71.00" y1="674.53" x2="78.50" y2="674.53" stroke="#000" stroke-width="1.6"/>
<text x="70.40" y="678.63" font-size="11.6" font-weight="bold" text-anchor="end">40</text>
<line x1="71.00" y1="621.60" x2="78.50" y2="621.60" stroke="#000" stroke-width="1.6"/>
<text x="70.40" y="625.70" font-size="11.6" font-weight="bold" text-anchor="end">60</text>
<line x1="78.50" y1="780.40" x2="78.50" y2="784.90" stroke="#000" stroke-width="1.6"/>
<text x="78.50" y="798.80" font-size="11.6" font-weight="bold" text-anchor="middle">0</text>
<line x1="117.90" y1="780.40" x2="117.90" y2="784.90" stroke="#000" stroke-width="1.6"/>
<text x="117.90" y="798.80" font-size="11.6" font-weight="bold" text-anchor="middle">2</text>
<line x1="157.30" y1="780.40" x2="157.30" y2="784.90" stroke="#000" stroke-width="1.6"/>
<text x="157.30" y="798.80" font-size="11.6" font-weight="bold" text-anchor="middle">4</text>
<line x1="196.70" y1="780.40" x2="196.70" y2="784.90" stroke="#000" stroke-width="1.6"/>
<text x="196.70" y="798.80" font-size="11.6" font-weight="bold" text-anchor="middle">6</text>
<line x1="236.10" y1="780.40" x2="236.10" y2="784.90" stroke="#000" stroke-width="1.6"/>
<text x="236.10" y="798.80" font-size="11.6" font-weight="bold" text-anchor="middle">8</text>
<line x1="275.50" y1="780.40" x2="275.50" y2="784.90" stroke="#000" stroke-width="1.6"/>
<text x="275.50" y="798.80" font-size="11.6" font-weight="bold" text-anchor="middle">10</text>
<text x="176.70" y="818.40" font-size="13" font-weight="bold" text-anchor="middle">Viral volume (µl)</text>
<text x="35.30" y="700.00" font-size="13" font-weight="bold" text-anchor="middle" transform="rotate(-90 35.30 700.00)">Normalized T cell fold change</text>
<text x="50.60" y="700.80" font-size="13" font-weight="bold" text-anchor="middle" transform="rotate(-90 50.60 700.80)">at day 10 relative to day 0</text>
<text x="194.60" y="637.40" font-size="12" text-anchor="end" fill="#111">KLF7_P2A_GFP-</text>
<text x="193.80" y="650.20" font-size="12" text-anchor="end" fill="#111">transduced T cells</text>
<text x="195.80" y="670.00" font-size="12" text-anchor="end" fill="#111">P2A_GFP-</text>
<text x="195.80" y="682.20" font-size="12" text-anchor="end" fill="#111">transduced T cells</text>
<line x1="200.40" y1="637.80" x2="219.00" y2="637.80" stroke="#3b82c4" stroke-width="1.6"/>
<circle cx="209.80" cy="637.80" r="3.20" fill="#3b82c4"/>
<line x1="198.60" y1="671.20" x2="217.20" y2="671.20" stroke="#e3262a" stroke-width="1.6"/>
<rect x="204.60" y="668.00" width="6.40" height="6.40" fill="#e3262a"/>
<line x1="90.81" y1="752.00" x2="90.81" y2="758.00" stroke="#e3262a" stroke-width="0.9"/>
<line x1="87.31" y1="752.00" x2="94.31" y2="752.00" stroke="#e3262a" stroke-width="0.9"/>
<line x1="87.31" y1="758.00" x2="94.31" y2="758.00" stroke="#e3262a" stroke-width="0.9"/>
<line x1="103.12" y1="753.00" x2="103.12" y2="759.00" stroke="#e3262a" stroke-width="0.9"/>
<line x1="99.62" y1="753.00" x2="106.62" y2="753.00" stroke="#e3262a" stroke-width="0.9"/>
<line x1="99.62" y1="759.00" x2="106.62" y2="759.00" stroke="#e3262a" stroke-width="0.9"/>
<line x1="127.75" y1="749.00" x2="127.75" y2="755.00" stroke="#e3262a" stroke-width="0.9"/>
<line x1="124.25" y1="749.00" x2="131.25" y2="749.00" stroke="#e3262a" stroke-width="0.9"/>
<line x1="124.25" y1="755.00" x2="131.25" y2="755.00" stroke="#e3262a" stroke-width="0.9"/>
<line x1="177.00" y1="746.00" x2="177.00" y2="752.00" stroke="#e3262a" stroke-width="0.9"/>
<line x1="173.50" y1="746.00" x2="180.50" y2="746.00" stroke="#e3262a" stroke-width="0.9"/>
<line x1="173.50" y1="752.00" x2="180.50" y2="752.00" stroke="#e3262a" stroke-width="0.9"/>
<line x1="275.50" y1="707.00" x2="275.50" y2="737.80" stroke="#e3262a" stroke-width="0.9"/>
<line x1="272.00" y1="707.00" x2="279.00" y2="707.00" stroke="#e3262a" stroke-width="0.9"/>
<line x1="272.00" y1="737.80" x2="279.00" y2="737.80" stroke="#e3262a" stroke-width="0.9"/>
<path d="M90.81,755.00 L103.12,756.00 L127.75,752.00 L177.00,749.00 L275.50,722.80" fill="none" stroke="#e3262a" stroke-width="1.7"/>
<rect x="87.61" y="751.80" width="6.40" height="6.40" fill="#e3262a"/>
<rect x="99.92" y="752.80" width="6.40" height="6.40" fill="#e3262a"/>
<rect x="124.55" y="748.80" width="6.40" height="6.40" fill="#e3262a"/>
<rect x="173.80" y="745.80" width="6.40" height="6.40" fill="#e3262a"/>
<rect x="272.30" y="719.60" width="6.40" height="6.40" fill="#e3262a"/>
<line x1="90.81" y1="738.40" x2="90.81" y2="754.40" stroke="#5a9bd6" stroke-width="0.9"/>
<line x1="87.31" y1="738.40" x2="94.31" y2="738.40" stroke="#5a9bd6" stroke-width="0.9"/>
<line x1="87.31" y1="754.40" x2="94.31" y2="754.40" stroke="#5a9bd6" stroke-width="0.9"/>
<line x1="103.12" y1="733.40" x2="103.12" y2="755.60" stroke="#5a9bd6" stroke-width="0.9"/>
<line x1="99.62" y1="733.40" x2="106.62" y2="733.40" stroke="#5a9bd6" stroke-width="0.9"/>
<line x1="99.62" y1="755.60" x2="106.62" y2="755.60" stroke="#5a9bd6" stroke-width="0.9"/>
<line x1="127.75" y1="725.60" x2="127.75" y2="746.00" stroke="#5a9bd6" stroke-width="0.9"/>
<line x1="124.25" y1="725.60" x2="131.25" y2="725.60" stroke="#5a9bd6" stroke-width="0.9"/>
<line x1="124.25" y1="746.00" x2="131.25" y2="746.00" stroke="#5a9bd6" stroke-width="0.9"/>
<line x1="177.00" y1="695.40" x2="177.00" y2="730.40" stroke="#5a9bd6" stroke-width="0.9"/>
<line x1="173.50" y1="695.40" x2="180.50" y2="695.40" stroke="#5a9bd6" stroke-width="0.9"/>
<line x1="173.50" y1="730.40" x2="180.50" y2="730.40" stroke="#5a9bd6" stroke-width="0.9"/>
<line x1="275.50" y1="626.20" x2="275.50" y2="668.90" stroke="#5a9bd6" stroke-width="0.9"/>
<line x1="272.00" y1="626.20" x2="279.00" y2="626.20" stroke="#5a9bd6" stroke-width="0.9"/>
<line x1="272.00" y1="668.90" x2="279.00" y2="668.90" stroke="#5a9bd6" stroke-width="0.9"/>
<path d="M90.81,746.40 L103.12,744.00 L127.75,736.40 L177.00,713.00 L275.50,647.80" fill="none" stroke="#3b82c4" stroke-width="1.7"/>
<circle cx="90.81" cy="746.40" r="3.30" fill="#3b82c4"/>
<circle cx="103.12" cy="744.00" r="3.30" fill="#3b82c4"/>
<circle cx="127.75" cy="736.40" r="3.30" fill="#3b82c4"/>
<circle cx="177.00" cy="713.00" r="3.30" fill="#3b82c4"/>
<circle cx="275.50" cy="647.80" r="3.30" fill="#3b82c4"/>
<line x1="78.50" y1="621.60" x2="78.50" y2="781.40" stroke="#000" stroke-width="2"/>
<line x1="77.50" y1="780.40" x2="276.80" y2="780.40" stroke="#000" stroke-width="2"/>
<line x1="182.60" y1="711.20" x2="182.60" y2="746.50" stroke="#000" stroke-width="2.2"/>
<text x="187.60" y="733.30" font-size="13" fill="#111">P=0.0179</text>
<line x1="284.20" y1="646.60" x2="284.20" y2="724.50" stroke="#000" stroke-width="2.2"/>
<text x="288.20" y="690.70" font-size="13" fill="#111">P&lt;0.0001</text>
<text x="366.00" y="606.90" font-size="15" font-weight="bold">H</text>
<line x1="425.10" y1="622.60" x2="432.60" y2="622.60" stroke="#000" stroke-width="1.6"/>
<text x="424.70" y="626.60" font-size="11.3" font-weight="bold" text-anchor="end">0.0</text>
<line x1="425.10" y1="662.05" x2="432.60" y2="662.05" stroke="#000" stroke-width="1.6"/>
<text x="424.70" y="666.05" font-size="11.3" font-weight="bold" text-anchor="end">-0.2</text>
<line x1="425.10" y1="701.50" x2="432.60" y2="701.50" stroke="#000" stroke-width="1.6"/>
<text x="424.70" y="705.50" font-size="11.3" font-weight="bold" text-anchor="end">-0.4</text>
<line x1="425.10" y1="740.95" x2="432.60" y2="740.95" stroke="#000" stroke-width="1.6"/>
<text x="424.70" y="744.95" font-size="11.3" font-weight="bold" text-anchor="end">-0.6</text>
<line x1="425.10" y1="780.40" x2="432.60" y2="780.40" stroke="#000" stroke-width="1.6"/>
<text x="424.70" y="784.40" font-size="11.3" font-weight="bold" text-anchor="end">-0.8</text>
<line x1="472.10" y1="780.40" x2="472.10" y2="785.00" stroke="#000" stroke-width="1.6"/>
<text x="472.10" y="798.40" font-size="11.6" font-weight="bold" text-anchor="middle">48</text>
<line x1="530.95" y1="780.40" x2="530.95" y2="785.00" stroke="#000" stroke-width="1.6"/>
<text x="530.95" y="798.40" font-size="11.6" font-weight="bold" text-anchor="middle">72</text>
<line x1="589.80" y1="780.40" x2="589.80" y2="785.00" stroke="#000" stroke-width="1.6"/>
<text x="589.80" y="798.40" font-size="11.6" font-weight="bold" text-anchor="middle">96</text>
<text x="530.90" y="818.50" font-size="13" font-weight="bold" text-anchor="middle">Time (hours)</text>
<text x="382.50" y="700.80" font-size="13" font-weight="bold" text-anchor="middle" transform="rotate(-90 382.50 700.80)">geoMFI of cell trace violet</text>
<text x="396.90" y="701.30" font-size="13" font-weight="bold" text-anchor="middle" transform="rotate(-90 396.90 701.30)">normalized to geoMFI at 48hrs</text>
<line x1="529.20" y1="624.50" x2="547.80" y2="624.50" stroke="#e3262a" stroke-width="1.6"/>
<path d="M538.2,620.4 L542.4,627.4 L534,627.4 Z" fill="#fff" stroke="#e3262a" stroke-width="1.6"/>
<text x="555.80" y="628.30" font-size="10.8" fill="#111">CAR+</text>
<line x1="529.20" y1="643.00" x2="547.80" y2="643.00" stroke="#3b82c4" stroke-width="1.6"/>
<circle cx="538.20" cy="643.00" r="3.40" fill="#fff" stroke="#3b82c4" stroke-width="1.5"/>
<text x="555.80" y="647.00" font-size="10.8" fill="#111">KLF7+ CAR+</text>
<line x1="530.95" y1="675.00" x2="530.95" y2="683.00" stroke="#5a9bd6" stroke-width="0.9"/>
<line x1="527.45" y1="675.00" x2="534.45" y2="675.00" stroke="#5a9bd6" stroke-width="0.9"/>
<line x1="527.45" y1="683.00" x2="534.45" y2="683.00" stroke="#5a9bd6" stroke-width="0.9"/>
<line x1="589.80" y1="729.30" x2="589.80" y2="741.50" stroke="#5a9bd6" stroke-width="0.9"/>
<line x1="586.30" y1="729.30" x2="593.30" y2="729.30" stroke="#5a9bd6" stroke-width="0.9"/>
<line x1="586.30" y1="741.50" x2="593.30" y2="741.50" stroke="#5a9bd6" stroke-width="0.9"/>
<path d="M472.10,623.50 L530.95,679.00 L589.80,735.80" fill="none" stroke="#3b82c4" stroke-width="1.7"/>
<circle cx="472.10" cy="623.50" r="3.40" fill="#9cc0e4" stroke="#3b82c4" stroke-width="1.5"/>
<circle cx="530.95" cy="679.00" r="3.40" fill="#fff" stroke="#3b82c4" stroke-width="1.5"/>
<circle cx="589.80" cy="735.80" r="3.40" fill="#fff" stroke="#3b82c4" stroke-width="1.5"/>
<line x1="530.95" y1="668.80" x2="530.95" y2="683.00" stroke="#e3262a" stroke-width="0.9"/>
<line x1="527.45" y1="668.80" x2="534.45" y2="668.80" stroke="#e3262a" stroke-width="0.9"/>
<line x1="527.45" y1="683.00" x2="534.45" y2="683.00" stroke="#e3262a" stroke-width="0.9"/>
<line x1="589.80" y1="694.00" x2="589.80" y2="710.50" stroke="#e3262a" stroke-width="0.9"/>
<line x1="586.30" y1="694.00" x2="593.30" y2="694.00" stroke="#e3262a" stroke-width="0.9"/>
<line x1="586.30" y1="710.50" x2="593.30" y2="710.50" stroke="#e3262a" stroke-width="0.9"/>
<path d="M472.10,623.50 L530.95,675.80 L589.80,702.20" fill="none" stroke="#e3262a" stroke-width="1.7"/>
<path d="M472.10,619.30 L476.30,626.50 L467.90,626.50 Z" fill="none" stroke="#e3262a" stroke-width="1.6"/>
<path d="M530.95,671.60 L535.15,678.80 L526.75,678.80 Z" fill="#fff" stroke="#e3262a" stroke-width="1.6"/>
<path d="M589.80,698.00 L594.00,705.20 L585.60,705.20 Z" fill="#fff" stroke="#e3262a" stroke-width="1.6"/>
<line x1="432.60" y1="621.60" x2="432.60" y2="781.40" stroke="#000" stroke-width="2"/>
<line x1="431.60" y1="780.40" x2="629.60" y2="780.40" stroke="#000" stroke-width="2"/>
<line x1="598.40" y1="700.90" x2="598.40" y2="739.60" stroke="#000" stroke-width="2.2"/>
<text x="603.60" y="724.40" font-size="13" fill="#111">P=0.0120</text>
<text x="-1.00" y="837.90" font-size="15" font-weight="bold">I</text>
<line x1="63.10" y1="991.70" x2="70.60" y2="991.70" stroke="#000" stroke-width="1.6"/>
<text x="62.40" y="995.70" font-size="11.3" font-weight="bold" text-anchor="end">0</text>
<line x1="63.10" y1="961.80" x2="70.60" y2="961.80" stroke="#000" stroke-width="1.6"/>
<text x="62.40" y="965.80" font-size="11.3" font-weight="bold" text-anchor="end">20</text>
<line x1="63.10" y1="931.90" x2="70.60" y2="931.90" stroke="#000" stroke-width="1.6"/>
<text x="62.40" y="935.90" font-size="11.3" font-weight="bold" text-anchor="end">40</text>
<line x1="63.10" y1="902.00" x2="70.60" y2="902.00" stroke="#000" stroke-width="1.6"/>
<text x="62.40" y="906.00" font-size="11.3" font-weight="bold" text-anchor="end">60</text>
<line x1="63.10" y1="872.10" x2="70.60" y2="872.10" stroke="#000" stroke-width="1.6"/>
<text x="62.40" y="876.10" font-size="11.3" font-weight="bold" text-anchor="end">80</text>
<line x1="63.10" y1="842.20" x2="70.60" y2="842.20" stroke="#000" stroke-width="1.6"/>
<text x="62.40" y="846.20" font-size="11.3" font-weight="bold" text-anchor="end">100</text>
<text x="23.10" y="916.70" font-size="12.6" font-weight="bold" text-anchor="middle" transform="rotate(-90 23.10 916.70)">Percent CD45RA- CCR7+</text>
<text x="37.30" y="918.90" font-size="12.8" font-weight="bold" text-anchor="middle" transform="rotate(-90 37.30 918.90)">CD8+ cells</text>
<text x="116.80" y="849.60" font-size="12.3" text-anchor="middle" fill="#111">P=0.0432</text>
<line x1="95.10" y1="857.20" x2="138.90" y2="857.20" stroke="#000" stroke-width="2"/>
<path d="M97.30,870.40 L97.30,870.68 L97.30,871.05 L97.30,871.49 L97.30,871.99 L97.30,872.51 L97.30,873.05 L97.30,873.59 L97.30,874.11 L97.30,874.58 L97.30,875.00 L97.36,875.36 L97.44,875.70 L97.52,876.02 L97.62,876.32 L97.72,876.60 L97.85,876.88 L97.98,877.15 L98.14,877.43 L98.31,877.71 L98.50,878.00 L98.71,878.30 L98.95,878.59 L99.22,878.88 L99.50,879.18 L99.79,879.47 L100.09,879.76 L100.39,880.06 L100.70,880.37 L101.00,880.68 L101.30,881.00 L101.60,881.33 L101.92,881.66 L102.25,882.00 L102.58,882.35 L102.91,882.70 L103.23,883.05 L103.54,883.41 L103.82,883.77 L104.08,884.14 L104.30,884.50 L104.49,884.87 L104.66,885.23 L104.81,885.61 L104.94,885.98 L105.05,886.36 L105.14,886.74 L105.21,887.12 L105.26,887.51 L105.29,887.90 L105.30,888.30 L105.29,888.70 L105.24,889.10 L105.18,889.50 L105.09,889.90 L104.99,890.31 L104.87,890.72 L104.74,891.15 L104.60,891.58 L104.45,892.03 L104.30,892.50 L104.12,892.99 L103.88,893.50 L103.60,894.03 L103.31,894.57 L103.02,895.12 L102.75,895.67 L102.53,896.22 L102.36,896.76 L102.28,897.29 L102.30,897.80 L102.43,898.29 L102.64,898.77 L102.94,899.23 L103.29,899.68 L103.69,900.14 L104.11,900.59 L104.55,901.05 L104.99,901.52 L105.41,902.00 L105.80,902.50 L106.19,903.02 L106.62,903.56 L107.07,904.12 L107.53,904.69 L107.98,905.26 L108.41,905.83 L108.80,906.40 L109.14,906.95 L109.41,907.49 L109.60,908.00 L109.71,908.49 L109.76,908.96 L109.76,909.42 L109.70,909.87 L109.61,910.31 L109.47,910.75 L109.29,911.18 L109.09,911.62 L108.86,912.05 L108.60,912.50 L108.30,912.95 L107.95,913.42 L107.54,913.88 L107.10,914.35 L106.64,914.81 L106.16,915.27 L105.67,915.72 L105.19,916.16 L104.73,916.59 L104.30,917.00 L103.88,917.39 L103.45,917.77 L103.02,918.14 L102.59,918.50 L102.17,918.84 L101.76,919.18 L101.36,919.52 L100.98,919.85 L100.63,920.17 L100.30,920.50 L100.00,920.82 L99.72,921.15 L99.46,921.47 L99.22,921.78 L99.00,922.09 L98.79,922.40 L98.60,922.69 L98.42,922.97 L98.26,923.24 L98.10,923.50 L97.96,923.73 L97.84,923.92 L97.73,924.09 L97.64,924.24 L97.56,924.39 L97.50,924.55 L97.44,924.73 L97.39,924.94 L97.34,925.19 L97.30,925.50 L97.30,925.89 L97.30,926.36 L97.30,926.89 L97.30,927.45 L97.30,928.02 L97.30,928.59 L97.30,929.12 L97.30,929.60 L97.30,930.00 L97.30,930.30 L97.30,930.30 L97.30,930.00 L97.30,929.60 L97.30,929.12 L97.30,928.59 L97.30,928.02 L97.30,927.45 L97.30,926.89 L97.30,926.36 L97.30,925.89 L97.30,925.50 L97.26,925.19 L97.21,924.94 L97.16,924.73 L97.10,924.55 L97.04,924.39 L96.96,924.24 L96.87,924.09 L96.76,923.92 L96.64,923.73 L96.50,923.50 L96.34,923.24 L96.18,922.97 L96.00,922.69 L95.81,922.40 L95.60,922.09 L95.38,921.78 L95.14,921.47 L94.88,921.15 L94.60,920.82 L94.30,920.50 L93.97,920.17 L93.62,919.85 L93.24,919.52 L92.84,919.18 L92.43,918.84 L92.01,918.50 L91.58,918.14 L91.15,917.77 L90.72,917.39 L90.30,917.00 L89.87,916.59 L89.41,916.16 L88.93,915.72 L88.44,915.27 L87.96,914.81 L87.50,914.35 L87.06,913.88 L86.65,913.42 L86.30,912.95 L86.00,912.50 L85.74,912.05 L85.51,911.62 L85.31,911.18 L85.13,910.75 L84.99,910.31 L84.90,909.87 L84.84,909.42 L84.84,908.96 L84.89,908.49 L85.00,908.00 L85.19,907.49 L85.46,906.95 L85.80,906.40 L86.19,905.83 L86.62,905.26 L87.07,904.69 L87.53,904.12 L87.98,903.56 L88.41,903.02 L88.80,902.50 L89.19,902.00 L89.61,901.52 L90.05,901.05 L90.49,900.59 L90.91,900.14 L91.31,899.68 L91.66,899.23 L91.96,898.77 L92.17,898.29 L92.30,897.80 L92.32,897.29 L92.24,896.76 L92.07,896.22 L91.85,895.67 L91.58,895.12 L91.29,894.57 L91.00,894.03 L90.72,893.50 L90.48,892.99 L90.30,892.50 L90.15,892.03 L90.00,891.58 L89.86,891.15 L89.73,890.72 L89.61,890.31 L89.51,889.90 L89.42,889.50 L89.36,889.10 L89.31,888.70 L89.30,888.30 L89.31,887.90 L89.34,887.51 L89.39,887.12 L89.46,886.74 L89.55,886.36 L89.66,885.98 L89.79,885.61 L89.94,885.23 L90.11,884.87 L90.30,884.50 L90.52,884.14 L90.78,883.77 L91.06,883.41 L91.37,883.05 L91.69,882.70 L92.02,882.35 L92.35,882.00 L92.68,881.66 L93.00,881.33 L93.30,881.00 L93.60,880.68 L93.90,880.37 L94.21,880.06 L94.51,879.76 L94.81,879.47 L95.10,879.18 L95.38,878.88 L95.65,878.59 L95.89,878.30 L96.10,878.00 L96.29,877.71 L96.46,877.43 L96.62,877.15 L96.75,876.88 L96.88,876.60 L96.98,876.32 L97.08,876.02 L97.16,875.70 L97.24,875.36 L97.30,875.00 L97.30,874.58 L97.30,874.11 L97.30,873.59 L97.30,873.05 L97.30,872.51 L97.30,871.99 L97.30,871.49 L97.30,871.05 L97.30,870.68 L97.30,870.40 Z" fill="#90b6db" stroke="#3a7fc0" stroke-width="2.5" stroke-linejoin="round"/>
<line x1="90.70" y1="888.30" x2="103.90" y2="888.30" stroke="#3a7fc0" stroke-width="0.8" stroke-dasharray="1.2,1.2"/>
<line x1="88.93" y1="904.00" x2="105.67" y2="904.00" stroke="#3a7fc0" stroke-width="0.8" stroke-dasharray="2.6,1.6"/>
<line x1="87.14" y1="912.00" x2="107.46" y2="912.00" stroke="#3a7fc0" stroke-width="0.8" stroke-dasharray="1.2,1.2"/>
<path d="M138.20,899.10 L138.20,899.40 L138.20,899.80 L138.20,900.27 L138.20,900.80 L138.20,901.36 L138.20,901.94 L138.20,902.52 L138.20,903.06 L138.20,903.56 L138.20,904.00 L138.27,904.38 L138.34,904.72 L138.43,905.04 L138.53,905.34 L138.64,905.62 L138.76,905.89 L138.90,906.16 L139.05,906.43 L139.22,906.71 L139.40,907.00 L139.61,907.30 L139.84,907.60 L140.09,907.90 L140.36,908.20 L140.64,908.50 L140.92,908.80 L141.21,909.10 L141.48,909.40 L141.75,909.70 L142.00,910.00 L142.24,910.30 L142.49,910.59 L142.73,910.87 L142.98,911.16 L143.21,911.45 L143.44,911.74 L143.66,912.04 L143.86,912.35 L144.04,912.67 L144.20,913.00 L144.35,913.35 L144.48,913.70 L144.61,914.07 L144.72,914.44 L144.81,914.83 L144.89,915.21 L144.95,915.61 L144.99,916.00 L145.01,916.40 L145.00,916.80 L144.96,917.20 L144.90,917.61 L144.81,918.02 L144.69,918.44 L144.56,918.86 L144.42,919.28 L144.27,919.71 L144.11,920.13 L143.95,920.57 L143.80,921.00 L143.62,921.44 L143.37,921.87 L143.10,922.31 L142.81,922.75 L142.53,923.20 L142.28,923.65 L142.08,924.10 L141.95,924.56 L141.92,925.03 L142.00,925.50 L142.21,925.97 L142.54,926.45 L142.96,926.92 L143.46,927.40 L144.00,927.88 L144.57,928.38 L145.15,928.88 L145.71,929.40 L146.24,929.94 L146.70,930.50 L147.14,931.09 L147.60,931.72 L148.07,932.37 L148.54,933.05 L148.99,933.72 L149.40,934.40 L149.78,935.07 L150.09,935.71 L150.34,936.33 L150.50,936.90 L150.58,937.44 L150.59,937.94 L150.54,938.43 L150.44,938.90 L150.29,939.35 L150.09,939.79 L149.86,940.22 L149.60,940.65 L149.31,941.07 L149.00,941.50 L148.65,941.93 L148.24,942.35 L147.77,942.78 L147.27,943.19 L146.74,943.60 L146.21,944.00 L145.67,944.39 L145.15,944.77 L144.65,945.14 L144.20,945.50 L143.77,945.85 L143.34,946.18 L142.92,946.50 L142.50,946.82 L142.10,947.12 L141.71,947.42 L141.35,947.71 L141.00,947.98 L140.69,948.25 L140.40,948.50 L140.15,948.74 L139.92,948.97 L139.73,949.19 L139.55,949.40 L139.40,949.59 L139.26,949.78 L139.14,949.97 L139.02,950.15 L138.91,950.32 L138.80,950.50 L138.70,950.66 L138.61,950.80 L138.53,950.91 L138.46,951.03 L138.40,951.14 L138.35,951.26 L138.30,951.40 L138.27,951.56 L138.23,951.76 L138.20,952.00 L138.20,952.30 L138.20,952.67 L138.20,953.09 L138.20,953.54 L138.20,953.99 L138.20,954.44 L138.20,954.87 L138.20,955.25 L138.20,955.56 L138.20,955.80 L138.20,955.80 L138.20,955.56 L138.20,955.25 L138.20,954.87 L138.20,954.44 L138.20,953.99 L138.20,953.54 L138.20,953.09 L138.20,952.67 L138.20,952.30 L138.20,952.00 L138.17,951.76 L138.13,951.56 L138.10,951.40 L138.05,951.26 L138.00,951.14 L137.94,951.03 L137.87,950.91 L137.79,950.80 L137.70,950.66 L137.60,950.50 L137.49,950.32 L137.38,950.15 L137.26,949.97 L137.14,949.78 L137.00,949.59 L136.85,949.40 L136.67,949.19 L136.48,948.97 L136.25,948.74 L136.00,948.50 L135.71,948.25 L135.40,947.98 L135.05,947.71 L134.69,947.42 L134.30,947.12 L133.90,946.82 L133.48,946.50 L133.06,946.18 L132.63,945.85 L132.20,945.50 L131.75,945.14 L131.25,944.77 L130.73,944.39 L130.19,944.00 L129.66,943.60 L129.13,943.19 L128.63,942.78 L128.16,942.35 L127.75,941.93 L127.40,941.50 L127.09,941.07 L126.80,940.65 L126.54,940.22 L126.31,939.79 L126.11,939.35 L125.96,938.90 L125.86,938.43 L125.81,937.94 L125.82,937.44 L125.90,936.90 L126.06,936.33 L126.31,935.71 L126.62,935.07 L127.00,934.40 L127.41,933.72 L127.86,933.05 L128.33,932.37 L128.80,931.72 L129.26,931.09 L129.70,930.50 L130.16,929.94 L130.69,929.40 L131.25,928.88 L131.83,928.38 L132.40,927.88 L132.94,927.40 L133.44,926.92 L133.86,926.45 L134.19,925.97 L134.40,925.50 L134.48,925.03 L134.45,924.56 L134.32,924.10 L134.12,923.65 L133.87,923.20 L133.59,922.75 L133.30,922.31 L133.03,921.87 L132.78,921.44 L132.60,921.00 L132.45,920.57 L132.29,920.13 L132.13,919.71 L131.98,919.28 L131.84,918.86 L131.71,918.44 L131.59,918.02 L131.50,917.61 L131.44,917.20 L131.40,916.80 L131.39,916.40 L131.41,916.00 L131.45,915.61 L131.51,915.21 L131.59,914.83 L131.68,914.44 L131.79,914.07 L131.92,913.70 L132.05,913.35 L132.20,913.00 L132.36,912.67 L132.54,912.35 L132.74,912.04 L132.96,911.74 L133.19,911.45 L133.42,911.16 L133.67,910.87 L133.91,910.59 L134.16,910.30 L134.40,910.00 L134.65,909.70 L134.92,909.40 L135.19,909.10 L135.48,908.80 L135.76,908.50 L136.04,908.20 L136.31,907.90 L136.56,907.60 L136.79,907.30 L137.00,907.00 L137.18,906.71 L137.35,906.43 L137.50,906.16 L137.64,905.89 L137.76,905.62 L137.87,905.34 L137.97,905.04 L138.06,904.72 L138.13,904.38 L138.20,904.00 L138.20,903.56 L138.20,903.06 L138.20,902.52 L138.20,901.94 L138.20,901.36 L138.20,900.80 L138.20,900.27 L138.20,899.80 L138.20,899.40 L138.20,899.10 Z" fill="#ef9c9d" stroke="#e3262a" stroke-width="2.5" stroke-linejoin="round"/>
<line x1="132.80" y1="916.80" x2="143.60" y2="916.80" stroke="#e3262a" stroke-width="0.8" stroke-dasharray="1.2,1.2"/>
<line x1="127.71" y1="935.40" x2="148.69" y2="935.40" stroke="#e3262a" stroke-width="0.8" stroke-dasharray="2.6,1.6"/>
<line x1="127.51" y1="939.40" x2="148.89" y2="939.40" stroke="#e3262a" stroke-width="0.8" stroke-dasharray="1.2,1.2"/>
<rect x="77.10" y="964.70" width="13.80" height="4.60" fill="#90b6db" stroke="#3a7fc0" stroke-width="1.6" rx="0.6"/>
<rect x="77.10" y="982.30" width="13.80" height="4.60" fill="#ef9c9d" stroke="#e3262a" stroke-width="1.6" rx="0.6"/>
<text x="101.00" y="970.20" font-size="10.3" fill="#111">KLF7+ CAR+</text>
<text x="101.00" y="987.60" font-size="10.3" fill="#111">CAR+</text>
<line x1="70.60" y1="841.60" x2="70.60" y2="992.70" stroke="#000" stroke-width="2"/>
<line x1="69.60" y1="991.70" x2="166.00" y2="991.70" stroke="#000" stroke-width="2"/>
<text x="534.50" y="836.60" font-size="15" font-weight="bold">K</text>
<line x1="578.70" y1="992.40" x2="586.20" y2="992.40" stroke="#000" stroke-width="1.6"/>
<text x="578.60" y="996.40" font-size="11" font-weight="bold" text-anchor="end">0</text>
<line x1="578.70" y1="956.62" x2="586.20" y2="956.62" stroke="#000" stroke-width="1.6"/>
<text x="578.60" y="960.62" font-size="11" font-weight="bold" text-anchor="end">10</text>
<line x1="578.70" y1="920.85" x2="586.20" y2="920.85" stroke="#000" stroke-width="1.6"/>
<text x="578.60" y="924.85" font-size="11" font-weight="bold" text-anchor="end">20</text>
<line x1="578.70" y1="885.07" x2="586.20" y2="885.07" stroke="#000" stroke-width="1.6"/>
<text x="578.60" y="889.07" font-size="11" font-weight="bold" text-anchor="end">30</text>
<line x1="578.70" y1="849.30" x2="586.20" y2="849.30" stroke="#000" stroke-width="1.6"/>
<text x="578.60" y="853.30" font-size="11" font-weight="bold" text-anchor="end">40</text>
<text x="546.30" y="921.00" font-size="11.8" font-weight="bold" text-anchor="middle" transform="rotate(-90 546.30 921.00)">Percent IL-2+</text>
<text x="559.90" y="920.70" font-size="11.8" font-weight="bold" text-anchor="middle" transform="rotate(-90 559.90 920.70)">CD8+ cells</text>
<text x="634.00" y="841.60" font-size="11.8" text-anchor="middle" fill="#111">P=0.0038</text>
<line x1="612.00" y1="848.90" x2="656.10" y2="848.90" stroke="#000" stroke-width="2"/>
<path d="M613.00,859.20 L613.00,859.49 L613.00,859.88 L613.00,860.34 L613.00,860.86 L613.00,861.41 L613.00,861.98 L613.00,862.54 L613.00,863.08 L613.00,863.57 L613.00,864.00 L613.06,864.37 L613.13,864.72 L613.21,865.03 L613.29,865.33 L613.39,865.61 L613.51,865.89 L613.65,866.16 L613.81,866.43 L613.99,866.71 L614.20,867.00 L614.44,867.30 L614.72,867.59 L615.02,867.88 L615.35,868.18 L615.69,868.47 L616.05,868.76 L616.41,869.06 L616.78,869.37 L617.14,869.68 L617.50,870.00 L617.86,870.33 L618.25,870.66 L618.66,871.00 L619.07,871.35 L619.48,871.70 L619.87,872.05 L620.25,872.41 L620.61,872.77 L620.93,873.14 L621.20,873.50 L621.44,873.87 L621.66,874.24 L621.85,874.62 L622.03,875.00 L622.17,875.39 L622.30,875.77 L622.39,876.16 L622.46,876.54 L622.49,876.92 L622.50,877.30 L622.47,877.67 L622.39,878.04 L622.27,878.41 L622.13,878.77 L621.96,879.14 L621.77,879.50 L621.57,879.87 L621.38,880.24 L621.18,880.62 L621.00,881.00 L620.81,881.38 L620.60,881.76 L620.38,882.15 L620.15,882.53 L619.92,882.92 L619.69,883.31 L619.48,883.72 L619.29,884.13 L619.13,884.56 L619.00,885.00 L618.90,885.46 L618.81,885.94 L618.74,886.44 L618.68,886.95 L618.65,887.47 L618.64,887.99 L618.64,888.51 L618.67,889.02 L618.72,889.52 L618.80,890.00 L618.91,890.47 L619.04,890.94 L619.20,891.40 L619.38,891.86 L619.59,892.31 L619.81,892.76 L620.04,893.20 L620.29,893.64 L620.54,894.07 L620.80,894.50 L621.08,894.92 L621.39,895.33 L621.73,895.72 L622.08,896.12 L622.44,896.51 L622.79,896.90 L623.13,897.29 L623.46,897.68 L623.75,898.09 L624.00,898.50 L624.23,898.93 L624.46,899.36 L624.67,899.80 L624.87,900.25 L625.05,900.69 L625.20,901.14 L625.32,901.59 L625.39,902.03 L625.42,902.47 L625.40,902.90 L625.32,903.32 L625.20,903.74 L625.03,904.16 L624.81,904.57 L624.57,904.97 L624.29,905.38 L623.99,905.79 L623.68,906.19 L623.34,906.60 L623.00,907.00 L622.63,907.41 L622.22,907.81 L621.77,908.22 L621.30,908.63 L620.82,909.04 L620.33,909.44 L619.84,909.84 L619.37,910.23 L618.92,910.62 L618.50,911.00 L618.10,911.38 L617.70,911.76 L617.31,912.13 L616.93,912.51 L616.56,912.88 L616.21,913.23 L615.87,913.58 L615.56,913.90 L615.26,914.21 L615.00,914.50 L614.76,914.76 L614.56,915.00 L614.37,915.23 L614.21,915.43 L614.06,915.62 L613.93,915.81 L613.81,915.98 L613.70,916.16 L613.60,916.33 L613.50,916.50 L613.41,916.65 L613.33,916.77 L613.26,916.87 L613.20,916.96 L613.16,917.05 L613.12,917.16 L613.08,917.29 L613.05,917.47 L613.03,917.70 L613.00,918.00 L613.00,918.39 L613.00,918.89 L613.00,919.45 L613.00,920.06 L613.00,920.69 L613.00,921.32 L613.00,921.91 L613.00,922.43 L613.00,922.87 L613.00,923.20 L613.00,923.20 L613.00,922.87 L613.00,922.43 L613.00,921.91 L613.00,921.32 L613.00,920.69 L613.00,920.06 L613.00,919.45 L613.00,918.89 L613.00,918.39 L613.00,918.00 L612.97,917.70 L612.95,917.47 L612.92,917.29 L612.88,917.16 L612.84,917.05 L612.80,916.96 L612.74,916.87 L612.67,916.77 L612.59,916.65 L612.50,916.50 L612.40,916.33 L612.30,916.16 L612.19,915.98 L612.07,915.81 L611.94,915.62 L611.79,915.43 L611.63,915.23 L611.44,915.00 L611.24,914.76 L611.00,914.50 L610.74,914.21 L610.44,913.90 L610.13,913.58 L609.79,913.23 L609.44,912.88 L609.07,912.51 L608.69,912.13 L608.30,911.76 L607.90,911.38 L607.50,911.00 L607.08,910.62 L606.63,910.23 L606.16,909.84 L605.67,909.44 L605.18,909.04 L604.70,908.63 L604.23,908.22 L603.78,907.81 L603.37,907.41 L603.00,907.00 L602.66,906.60 L602.32,906.19 L602.01,905.79 L601.71,905.38 L601.43,904.97 L601.19,904.57 L600.97,904.16 L600.80,903.74 L600.68,903.32 L600.60,902.90 L600.58,902.47 L600.61,902.03 L600.68,901.59 L600.80,901.14 L600.95,900.69 L601.13,900.25 L601.33,899.80 L601.54,899.36 L601.77,898.93 L602.00,898.50 L602.25,898.09 L602.54,897.68 L602.87,897.29 L603.21,896.90 L603.56,896.51 L603.92,896.12 L604.27,895.72 L604.61,895.33 L604.92,894.92 L605.20,894.50 L605.46,894.07 L605.71,893.64 L605.96,893.20 L606.19,892.76 L606.41,892.31 L606.62,891.86 L606.80,891.40 L606.96,890.94 L607.09,890.47 L607.20,890.00 L607.28,889.52 L607.33,889.02 L607.36,888.51 L607.36,887.99 L607.35,887.47 L607.32,886.95 L607.26,886.44 L607.19,885.94 L607.10,885.46 L607.00,885.00 L606.87,884.56 L606.71,884.13 L606.52,883.72 L606.31,883.31 L606.08,882.92 L605.85,882.53 L605.62,882.15 L605.40,881.76 L605.19,881.38 L605.00,881.00 L604.82,880.62 L604.62,880.24 L604.43,879.87 L604.23,879.50 L604.04,879.14 L603.87,878.77 L603.73,878.41 L603.61,878.04 L603.53,877.67 L603.50,877.30 L603.51,876.92 L603.54,876.54 L603.61,876.16 L603.70,875.77 L603.83,875.39 L603.97,875.00 L604.15,874.62 L604.34,874.24 L604.56,873.87 L604.80,873.50 L605.07,873.14 L605.39,872.77 L605.75,872.41 L606.13,872.05 L606.52,871.70 L606.93,871.35 L607.34,871.00 L607.75,870.66 L608.14,870.33 L608.50,870.00 L608.86,869.68 L609.22,869.37 L609.59,869.06 L609.95,868.76 L610.31,868.47 L610.65,868.18 L610.98,867.88 L611.28,867.59 L611.56,867.30 L611.80,867.00 L612.01,866.71 L612.19,866.43 L612.35,866.16 L612.49,865.89 L612.61,865.61 L612.71,865.33 L612.79,865.03 L612.87,864.72 L612.94,864.37 L613.00,864.00 L613.00,863.57 L613.00,863.08 L613.00,862.54 L613.00,861.98 L613.00,861.41 L613.00,860.86 L613.00,860.34 L613.00,859.88 L613.00,859.49 L613.00,859.20 Z" fill="#90b6db" stroke="#3a7fc0" stroke-width="2.5" stroke-linejoin="round"/>
<line x1="604.93" y1="877.60" x2="621.07" y2="877.60" stroke="#3a7fc0" stroke-width="0.8" stroke-dasharray="1.2,1.2"/>
<line x1="606.60" y1="894.40" x2="619.40" y2="894.40" stroke="#3a7fc0" stroke-width="0.8" stroke-dasharray="2.6,1.6"/>
<line x1="602.20" y1="903.90" x2="623.80" y2="903.90" stroke="#3a7fc0" stroke-width="0.8" stroke-dasharray="1.2,1.2"/>
<path d="M653.90,883.50 L653.90,883.81 L653.90,884.21 L653.90,884.70 L653.90,885.24 L653.90,885.81 L653.90,886.40 L653.90,886.99 L653.90,887.55 L653.90,888.06 L653.90,888.50 L653.97,888.88 L654.04,889.22 L654.13,889.53 L654.23,889.82 L654.34,890.09 L654.46,890.36 L654.60,890.63 L654.75,890.90 L654.92,891.19 L655.10,891.50 L655.31,891.83 L655.54,892.16 L655.80,892.50 L656.07,892.84 L656.35,893.19 L656.64,893.54 L656.92,893.90 L657.20,894.26 L657.46,894.63 L657.70,895.00 L657.93,895.38 L658.16,895.76 L658.39,896.14 L658.61,896.54 L658.82,896.93 L659.03,897.33 L659.22,897.74 L659.40,898.15 L659.56,898.57 L659.70,899.00 L659.82,899.43 L659.94,899.88 L660.04,900.33 L660.13,900.78 L660.20,901.24 L660.26,901.71 L660.30,902.18 L660.32,902.65 L660.32,903.13 L660.30,903.60 L660.25,904.07 L660.18,904.54 L660.08,905.01 L659.97,905.48 L659.84,905.96 L659.70,906.44 L659.55,906.93 L659.39,907.44 L659.24,907.96 L659.10,908.50 L658.93,909.06 L658.71,909.65 L658.47,910.26 L658.21,910.89 L657.96,911.52 L657.74,912.15 L657.57,912.78 L657.46,913.41 L657.43,914.01 L657.50,914.60 L657.68,915.16 L657.96,915.71 L658.32,916.25 L658.74,916.77 L659.21,917.29 L659.71,917.82 L660.23,918.34 L660.74,918.88 L661.24,919.43 L661.70,920.00 L662.17,920.59 L662.69,921.21 L663.25,921.85 L663.81,922.49 L664.36,923.14 L664.89,923.78 L665.36,924.42 L665.77,925.04 L666.09,925.63 L666.30,926.20 L666.40,926.73 L666.42,927.21 L666.36,927.67 L666.24,928.12 L666.06,928.55 L665.83,928.99 L665.57,929.44 L665.29,929.92 L665.00,930.44 L664.70,931.00 L664.38,931.62 L664.00,932.28 L663.59,932.97 L663.15,933.69 L662.68,934.42 L662.21,935.17 L661.73,935.90 L661.26,936.63 L660.82,937.33 L660.40,938.00 L660.00,938.65 L659.59,939.30 L659.19,939.95 L658.80,940.59 L658.41,941.22 L658.03,941.83 L657.67,942.42 L657.32,942.98 L657.00,943.51 L656.70,944.00 L656.43,944.46 L656.17,944.88 L655.94,945.28 L655.72,945.65 L655.52,946.00 L655.33,946.33 L655.16,946.64 L655.00,946.94 L654.84,947.22 L654.70,947.50 L654.57,947.74 L654.45,947.92 L654.35,948.05 L654.26,948.17 L654.17,948.28 L654.10,948.41 L654.04,948.58 L653.99,948.80 L653.94,949.10 L653.90,949.50 L653.90,950.03 L653.90,950.69 L653.90,951.45 L653.90,952.28 L653.90,953.12 L653.90,953.96 L653.90,954.76 L653.90,955.47 L653.90,956.06 L653.90,956.50 L653.90,956.50 L653.90,956.06 L653.90,955.47 L653.90,954.76 L653.90,953.96 L653.90,953.12 L653.90,952.28 L653.90,951.45 L653.90,950.69 L653.90,950.03 L653.90,949.50 L653.86,949.10 L653.81,948.80 L653.76,948.58 L653.70,948.41 L653.62,948.28 L653.54,948.17 L653.45,948.05 L653.35,947.92 L653.23,947.74 L653.10,947.50 L652.96,947.22 L652.80,946.94 L652.64,946.64 L652.47,946.33 L652.28,946.00 L652.08,945.65 L651.86,945.28 L651.63,944.88 L651.37,944.46 L651.10,944.00 L650.80,943.51 L650.48,942.98 L650.13,942.42 L649.77,941.83 L649.39,941.22 L649.00,940.59 L648.61,939.95 L648.21,939.30 L647.80,938.65 L647.40,938.00 L646.98,937.33 L646.54,936.63 L646.07,935.90 L645.59,935.17 L645.12,934.42 L644.65,933.69 L644.21,932.97 L643.80,932.28 L643.42,931.62 L643.10,931.00 L642.80,930.44 L642.51,929.92 L642.23,929.44 L641.97,928.99 L641.74,928.55 L641.56,928.12 L641.44,927.67 L641.38,927.21 L641.40,926.73 L641.50,926.20 L641.71,925.63 L642.03,925.04 L642.44,924.42 L642.91,923.78 L643.44,923.14 L643.99,922.49 L644.55,921.85 L645.11,921.21 L645.63,920.59 L646.10,920.00 L646.56,919.43 L647.06,918.88 L647.57,918.34 L648.09,917.82 L648.59,917.29 L649.06,916.77 L649.48,916.25 L649.84,915.71 L650.12,915.16 L650.30,914.60 L650.37,914.01 L650.34,913.41 L650.23,912.78 L650.06,912.15 L649.84,911.52 L649.59,910.89 L649.33,910.26 L649.09,909.65 L648.87,909.06 L648.70,908.50 L648.56,907.96 L648.41,907.44 L648.25,906.93 L648.10,906.44 L647.96,905.96 L647.83,905.48 L647.72,905.01 L647.62,904.54 L647.55,904.07 L647.50,903.60 L647.48,903.13 L647.48,902.65 L647.50,902.18 L647.54,901.71 L647.60,901.24 L647.67,900.78 L647.76,900.33 L647.86,899.88 L647.98,899.43 L648.10,899.00 L648.24,898.57 L648.40,898.15 L648.58,897.74 L648.77,897.33 L648.98,896.93 L649.19,896.54 L649.41,896.14 L649.64,895.76 L649.87,895.38 L650.10,895.00 L650.34,894.63 L650.60,894.26 L650.88,893.90 L651.16,893.54 L651.45,893.19 L651.73,892.84 L652.00,892.50 L652.26,892.16 L652.49,891.83 L652.70,891.50 L652.88,891.19 L653.05,890.90 L653.20,890.63 L653.34,890.36 L653.46,890.09 L653.57,889.82 L653.67,889.53 L653.76,889.22 L653.83,888.88 L653.90,888.50 L653.90,888.06 L653.90,887.55 L653.90,886.99 L653.90,886.40 L653.90,885.81 L653.90,885.24 L653.90,884.70 L653.90,884.21 L653.90,883.81 L653.90,883.50 Z" fill="#ef9c9d" stroke="#e3262a" stroke-width="2.5" stroke-linejoin="round"/>
<line x1="649.65" y1="907.00" x2="658.15" y2="907.00" stroke="#e3262a" stroke-width="0.8" stroke-dasharray="1.2,1.2"/>
<line x1="644.31" y1="924.00" x2="663.49" y2="924.00" stroke="#e3262a" stroke-width="0.8" stroke-dasharray="2.6,1.6"/>
<line x1="644.82" y1="931.60" x2="662.98" y2="931.60" stroke="#e3262a" stroke-width="0.8" stroke-dasharray="1.2,1.2"/>
<rect x="594.30" y="965.50" width="13.80" height="4.60" fill="#90b6db" stroke="#3a7fc0" stroke-width="1.6" rx="0.6"/>
<rect x="594.30" y="982.30" width="13.80" height="4.60" fill="#ef9c9d" stroke="#e3262a" stroke-width="1.6" rx="0.6"/>
<text x="617.60" y="970.60" font-size="10.3" fill="#111">KLF7+ CAR+</text>
<text x="617.60" y="987.40" font-size="10.3" fill="#111">CAR+</text>
<line x1="586.20" y1="848.50" x2="586.20" y2="993.40" stroke="#000" stroke-width="2"/>
<line x1="585.20" y1="992.40" x2="682.40" y2="992.40" stroke="#000" stroke-width="2"/>
<text x="188.10" y="838.20" font-size="15" font-weight="bold">J</text>
<text x="263.30" y="836.90" font-size="8.8" font-weight="bold" fill="#2a5bab">KLF7 binding site (as per MEME)</text>
<line x1="295.50" y1="839.10" x2="351.90" y2="839.10" stroke="#2a5bab" stroke-width="1.4"/>
<text x="204.5" y="847.3" font-size="8.8"><tspan fill="#111">TGAGTTACTTTTGTAT</tspan><tspan fill="#2a5bab" font-weight="bold">CCCCACCCC</tspan><tspan fill="#111">CTTAAAGAAAGGAGGAAAAACTGTT</tspan></text>
<text x="204.20" y="854.30" font-size="8.9" fill="#111">-321</text>
<text x="327.50" y="854.30" font-size="8.8" text-anchor="middle" fill="#2a5bab">-305 to -297</text>
<text x="498.80" y="854.80" font-size="8.9" fill="#111">-272</text>
<text x="204.5" y="863.5" font-size="8.8"><tspan fill="#111">TCATACAGAAGGCGTTAATTGCATGAATTAGAGCTATCACCTAAGTGTGG</tspan></text>
<text x="204.20" y="876.40" font-size="8.9" fill="#111">-271</text>
<text x="494.30" y="877.60" font-size="8.9" fill="#111">-222</text>
<text x="204.5" y="885.8" font-size="8.8"><tspan fill="#111">GCTAATGTAACAAAGAGGGATTTCACCTACATCCATTCAGTCAGTCTTTG</tspan></text>
<text x="204.20" y="899.50" font-size="8.9" fill="#111">-221</text>
<text x="495.00" y="899.50" font-size="8.9" fill="#111">-172</text>
<text x="204.5" y="907.4" font-size="8.8"><tspan fill="#111">GGGGTTTAAAGAAATTCCAAAGAGTCATCAGAAGAGGAAAAATGAAGGTA</tspan></text>
<text x="204.20" y="922.90" font-size="8.9" fill="#111">-171</text>
<text x="501.20" y="922.90" font-size="8.9" fill="#111">-122</text>
<text x="204.5" y="931.6" font-size="8.8"><tspan fill="#111">ATGTTTTTTCAGACAGGTAAAGTCTTTGAAAATATGTGTAATATGTAAAA</tspan></text>
<text x="204.20" y="944.70" font-size="8.9" fill="#111">-121</text>
<text x="488.80" y="944.70" font-size="8.9" fill="#111">-72</text>
<text x="431.40" y="953.40" font-size="8.8" font-weight="bold" fill="#b31b1b">TATA Box</text>
<line x1="430.00" y1="955.90" x2="474.60" y2="955.90" stroke="#b31b1b" stroke-width="1.4"/>
<text x="204.5" y="962.6" font-size="8.8"><tspan fill="#111">CATTTTGACACCCCCATAATATTTTTCCAGAATTAACAG</tspan><tspan fill="#b31b1b" font-weight="bold">TATAAATT</tspan><tspan fill="#111">GCA</tspan></text>
<text x="204.20" y="970.00" font-size="8.9" fill="#111">-71</text>
<text x="488.80" y="969.50" font-size="8.9" fill="#111">-22</text>
<text x="297.50" y="978.70" font-size="8.8" font-weight="bold" fill="#a325c9">IL2 Transcription Start Site</text>
<line x1="329.00" y1="981.20" x2="376.80" y2="981.20" stroke="#a325c9" stroke-width="1.4"/>
<text x="204.5" y="987.7" font-size="8.8"><tspan fill="#111">TCTCTTGTTCAAGAGTTCCCT</tspan><tspan fill="#a325c9" font-weight="bold">ATCACTCT</tspan></text>
<text x="204.20" y="994.80" font-size="8.9" fill="#111">-21</text>
<text x="330.30" y="994.80" font-size="8.8" fill="#a325c9">+1 to +8</text>
</svg></body></html>
